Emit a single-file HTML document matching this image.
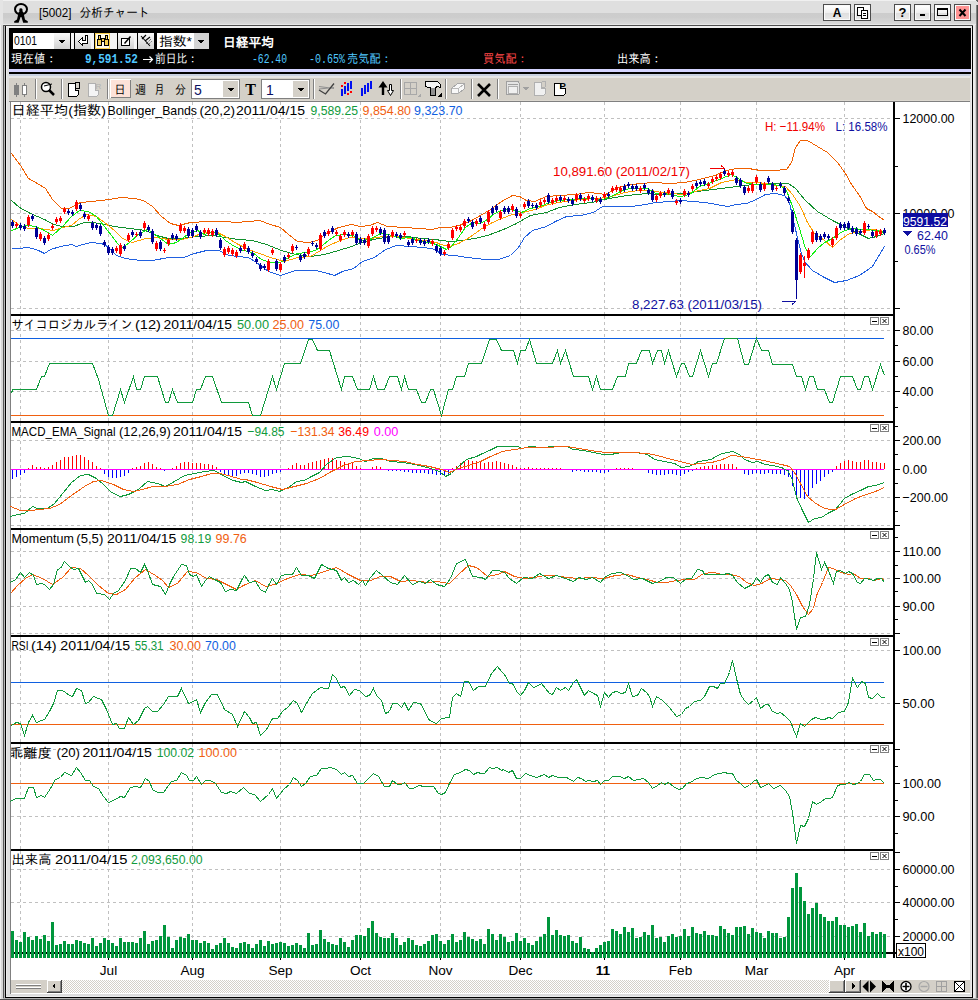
<!DOCTYPE html><html><head><meta charset="utf-8"><title>分析チャート</title>
<style>html,body{margin:0;padding:0;background:#e8e8e8;}body{width:978px;height:1000px;overflow:hidden;position:relative;}svg{position:absolute;left:0;top:0;display:block;}text{white-space:pre;}</style></head><body>
<svg width="978" height="1000" viewBox="0 0 978 1000" shape-rendering="crispEdges">
<defs>
<linearGradient id="gT" x1="0" y1="0" x2="0" y2="1"><stop offset="0" stop-color="#cccccc"/><stop offset="0.4" stop-color="#cdcdcd"/><stop offset="1" stop-color="#dadada"/></linearGradient>
<linearGradient id="gB" x1="0" y1="0" x2="0" y2="1"><stop offset="0" stop-color="#ffffff"/><stop offset="0.5" stop-color="#f0f0f0"/><stop offset="0.55" stop-color="#dedede"/><stop offset="1" stop-color="#e8e8e8"/></linearGradient>
<linearGradient id="gD" x1="0" y1="0" x2="0" y2="1"><stop offset="0" stop-color="#fafafa"/><stop offset="1" stop-color="#d0d0d0"/></linearGradient>
<pattern id="chk" width="2" height="2" patternUnits="userSpaceOnUse"><rect width="2" height="2" fill="#ffffff"/><rect width="1" height="1" fill="#d4d0c8"/><rect x="1" y="1" width="1" height="1" fill="#d4d0c8"/></pattern>
</defs>
<rect x="0" y="0" width="978" height="1000" fill="#e4e4e4" />
<rect x="0" y="0" width="978" height="1" fill="#f0f0f0" />
<rect x="0" y="1" width="978" height="12" fill="#dfdfdf" />
<rect x="0" y="13" width="978" height="11" fill="url(#gT)" />
<rect x="0" y="24" width="978" height="1" fill="#e8e8e8" />
<rect x="3" y="25" width="971" height="1" fill="#505050" />
<rect x="3" y="26" width="970" height="2" fill="#f0f0f0" />
<path d="M0,0 L3,0 L0,3 Z" fill="#000"/>
<path d="M975,0 L978,0 L978,3 Z" fill="#606060"/>
<rect x="0" y="0" width="1" height="1000" fill="#f0f0f0" />
<rect x="1" y="0" width="2" height="1000" fill="#d8d8d8" />
<rect x="0" y="0" width="3" height="25" fill="#e4e4e4" />
<rect x="3" y="25" width="1" height="975" fill="#585858" />
<rect x="4" y="26" width="1" height="972" fill="#b8b8b8" />
<rect x="5" y="26" width="1" height="972" fill="#000000" />
<rect x="6" y="26" width="1" height="971" fill="#ececec" />
<rect x="7" y="28" width="3" height="969" fill="#e0e0e0" />
<rect x="6" y="26" width="4" height="2" fill="#f0f0f0" />
<rect x="970" y="26" width="1" height="971" fill="#e0e0e0" />
<rect x="971" y="26" width="1" height="971" fill="#ececec" />
<rect x="972" y="26" width="1" height="972" fill="#000000" />
<rect x="973" y="25" width="2" height="975" fill="#ececec" />
<rect x="975" y="25" width="1" height="975" fill="#d4d4d4" />
<rect x="976" y="5" width="1" height="995" fill="#808080" />
<rect x="977" y="5" width="1" height="995" fill="#484848" />
<rect x="11" y="993" width="959" height="1" fill="#ffffff" />
<rect x="6" y="994" width="966" height="2" fill="#dcdcdc" />
<rect x="6" y="996" width="966" height="1" fill="#ececec" />
<rect x="5" y="997" width="968" height="1" fill="#000000" />
<rect x="3" y="998" width="975" height="1" fill="#b0b0b0" />
<rect x="0" y="999" width="978" height="1" fill="#505050" />
<ellipse cx="21" cy="9.3" rx="6" ry="5.3" fill="none" stroke="#000" stroke-width="2" shape-rendering="auto"/>
<path d="M19.6,8.6 L21.2,8.2 L22.4,9 L22.6,11.5 L23.6,12.5 L24.2,16 L25,19.5 L27.8,21.3 L27.8,22.7 L23.2,22.7 L21.4,17 L20.6,17 L18.6,22.7 L14.2,22.7 L14.2,21.3 L17,19.5 L17.8,16 L18.4,12.5 L19.6,11.5 L19.2,11 Z" fill="#000" shape-rendering="auto"/>
<text x="39" y="16.8" font-size="13.5" fill="#000" text-anchor="start" font-weight="normal" font-family='"Liberation Sans", sans-serif' textLength="32.5" lengthAdjust="spacingAndGlyphs" >[5002]</text>
<text x="79.5" y="17" font-size="12.5" fill="#000" text-anchor="start" font-weight="normal" font-family='"Liberation Sans", "IPAGothic", "Noto Sans CJK JP", sans-serif' textLength="70" lengthAdjust="spacingAndGlyphs" >分析チャート</text>
<rect x="823" y="4" width="28" height="17" fill="#4c4c4c" />
<rect x="824" y="5" width="26" height="15" fill="#fafafa" />
<rect x="825" y="6" width="24" height="13" fill="url(#gB)" />
<text x="837" y="17" font-size="12" fill="#000" text-anchor="middle" font-weight="bold" font-family='"Liberation Sans", sans-serif' >A</text>
<rect x="854" y="4" width="17" height="17" fill="#4c4c4c" />
<rect x="855" y="5" width="15" height="15" fill="#fafafa" />
<rect x="856" y="6" width="13" height="13" fill="url(#gB)" />
<g stroke="#000" stroke-width="1" fill="#fff"><rect x="857.5" y="7.5" width="6" height="8"/><rect x="861.5" y="10.5" width="6" height="8"/></g>
<g stroke="#000" stroke-width="1"><line x1="863" y1="13.5" x2="866" y2="13.5"/><line x1="863" y1="15.5" x2="866" y2="15.5"/></g>
<rect x="894" y="4" width="17" height="17" fill="#4c4c4c" />
<rect x="895" y="5" width="15" height="15" fill="#fafafa" />
<rect x="896" y="6" width="13" height="13" fill="url(#gB)" />
<text x="902.5" y="17" font-size="13" fill="#000" text-anchor="middle" font-weight="bold" font-family='"Liberation Sans", sans-serif' >?</text>
<rect x="914" y="4" width="17" height="17" fill="#4c4c4c" />
<rect x="915" y="5" width="15" height="15" fill="#fafafa" />
<rect x="916" y="6" width="13" height="13" fill="url(#gB)" />
<rect x="920" y="14" width="5" height="2" fill="#000" />
<rect x="934" y="4" width="17" height="17" fill="#4c4c4c" />
<rect x="935" y="5" width="15" height="15" fill="#fafafa" />
<rect x="936" y="6" width="13" height="13" fill="url(#gB)" />
<rect x="937.5" y="8.5" width="10" height="7" fill="none" stroke="#000"/>
<rect x="938" y="9" width="9" height="1" fill="#000" />
<rect x="954" y="4" width="17" height="17" fill="#4c4c4c" />
<rect x="955" y="5" width="15" height="15" fill="#fafafa" />
<rect x="956" y="6" width="13" height="13" fill="#ff9494" />
<path d="M959.5,9.5 L965.5,16 M965.5,9.5 L959.5,16" stroke="#000" stroke-width="2" shape-rendering="auto"/>
<rect x="9" y="28" width="962" height="41" fill="#000" />
<rect x="9" y="69" width="962" height="3" fill="#d4d4ff" />
<rect x="9" y="72" width="962" height="2" fill="#000" />
<rect x="9" y="74" width="961" height="2" fill="#c8d0e0" />
<rect x="9" y="76" width="961" height="2" fill="#e6e6e6" />
<rect x="13" y="33" width="41" height="16" fill="#ffffff" />
<text x="14" y="44.5" font-size="12" fill="#000" text-anchor="start" font-weight="normal" font-family='"Liberation Sans", sans-serif' textLength="23" lengthAdjust="spacingAndGlyphs" >0101</text>
<rect x="54" y="33" width="16" height="16" fill="url(#gD)" />
<path d="M58.5,39.5 L65.5,39.5 L62,43.5 Z" fill="#000"/>
<rect x="71" y="33" width="3" height="16" fill="#f4f4f4" />
<rect x="75" y="33" width="16" height="16" fill="url(#gD)" />
<path d="M85.5,35.5 H87.5 V43.5 H82.5 V45.5 L78.5,41.5 L82.5,37.5 V40.5 H85.5 Z" fill="#fff" stroke="#000"/>
<rect x="91" y="33" width="3" height="16" fill="#f4f4f4" />
<rect x="95" y="33" width="15" height="16" fill="#f8d050" />
<rect x="96" y="34" width="13" height="14" fill="#fffbe8" />
<g fill="#f8d050" stroke="#000"><rect x="97.5" y="39.5" width="4" height="6"/><rect x="104.5" y="39.5" width="4" height="6"/><rect x="98.5" y="35.5" width="2" height="4"/><rect x="105.5" y="35.5" width="2" height="4"/><rect x="101.5" y="38.5" width="3" height="3"/></g>
<rect x="110" y="33" width="7" height="16" fill="#f4f4f4" />
<rect x="118" y="33" width="16" height="16" fill="url(#gD)" />
<path d="M121.5,38.5 L121.5,45.5 L129.5,45.5 L129.5,38.5 Z" fill="#fff" stroke="#000"/><path d="M124.5,43.5 L130.5,36.5" stroke="#000" stroke-width="1.5" shape-rendering="auto"/>
<rect x="134" y="33" width="3" height="16" fill="#f4f4f4" />
<rect x="138" y="33" width="16" height="16" fill="url(#gD)" />
<path d="M141,36 L150,46 M142,39 L146,35 M145,41 L150,37" stroke="#000" stroke-width="1.1" shape-rendering="auto"/><path d="M146,44 L151,39 M148,45 L152,41" stroke="#000" stroke-width="0.8" stroke-dasharray="1,1" shape-rendering="auto"/>
<rect x="157" y="33" width="37" height="16" fill="#ffffff" />
<text x="159" y="46" font-size="13" fill="#000" text-anchor="start" font-weight="normal" font-family='"Liberation Sans", "IPAGothic", "Noto Sans CJK JP", sans-serif' textLength="33" lengthAdjust="spacingAndGlyphs" >指数*</text>
<rect x="194" y="33" width="15" height="16" fill="#d4d4d4" />
<path d="M197.5,39.5 L204.5,39.5 L201,43.5 Z" fill="#000"/>
<text x="223" y="46.5" font-size="13" fill="#ffffff" text-anchor="start" font-weight="bold" font-family='"Liberation Sans", "IPAGothic", "Noto Sans CJK JP", sans-serif' textLength="51" lengthAdjust="spacingAndGlyphs" >日経平均</text>
<text x="11" y="63" font-size="12.5" fill="#ffffff" text-anchor="start" font-weight="normal" font-family='"Liberation Sans", "IPAGothic", "Noto Sans CJK JP", sans-serif' textLength="46" lengthAdjust="spacingAndGlyphs" >現在値：</text>
<text x="85" y="63" font-size="13" fill="#50c8ff" text-anchor="start" font-weight="bold" font-family='"Liberation Mono", monospace' textLength="53" lengthAdjust="spacingAndGlyphs" >9,591.52</text>
<path d="M143,59.5 H152 M149.5,56.5 L152.5,59.5 L149.5,62.5" stroke="#fff" fill="none" stroke-width="1.2" shape-rendering="auto"/>
<text x="155" y="63" font-size="12.5" fill="#ffffff" text-anchor="start" font-weight="normal" font-family='"Liberation Sans", "IPAGothic", "Noto Sans CJK JP", sans-serif' textLength="43" lengthAdjust="spacingAndGlyphs" >前日比：</text>
<text x="252" y="63" font-size="12.5" fill="#50c8ff" text-anchor="start" font-weight="normal" font-family='"Liberation Mono", monospace' textLength="35" lengthAdjust="spacingAndGlyphs" >-62.40</text>
<text x="309" y="63" font-size="12.5" fill="#50c8ff" text-anchor="start" font-weight="normal" font-family='"Liberation Mono", monospace' textLength="36" lengthAdjust="spacingAndGlyphs" >-0.65%</text>
<text x="347" y="63" font-size="12.5" fill="#50c8ff" text-anchor="start" font-weight="normal" font-family='"Liberation Sans", "IPAGothic", "Noto Sans CJK JP", sans-serif' textLength="45" lengthAdjust="spacingAndGlyphs" >売気配：</text>
<text x="483" y="63" font-size="12.5" fill="#ff4848" text-anchor="start" font-weight="normal" font-family='"Liberation Sans", "IPAGothic", "Noto Sans CJK JP", sans-serif' textLength="45" lengthAdjust="spacingAndGlyphs" >買気配：</text>
<text x="617" y="63" font-size="12.5" fill="#ffffff" text-anchor="start" font-weight="normal" font-family='"Liberation Sans", "IPAGothic", "Noto Sans CJK JP", sans-serif' textLength="45" lengthAdjust="spacingAndGlyphs" >出来高：</text>
<rect x="9" y="78" width="961" height="23" fill="#d4d0c8" />
<rect x="9" y="100" width="961" height="1" fill="#dcd8d0" />
<rect x="9" y="101" width="961" height="1" fill="#808080" />
<rect x="35" y="79" width="1" height="20" fill="#808080" />
<rect x="36" y="79" width="1" height="20" fill="#ffffff" />
<rect x="61" y="79" width="1" height="20" fill="#808080" />
<rect x="62" y="79" width="1" height="20" fill="#ffffff" />
<rect x="107" y="79" width="1" height="20" fill="#808080" />
<rect x="108" y="79" width="1" height="20" fill="#ffffff" />
<rect x="313" y="79" width="1" height="20" fill="#808080" />
<rect x="314" y="79" width="1" height="20" fill="#ffffff" />
<rect x="400" y="79" width="1" height="20" fill="#808080" />
<rect x="401" y="79" width="1" height="20" fill="#ffffff" />
<rect x="445" y="79" width="1" height="20" fill="#808080" />
<rect x="446" y="79" width="1" height="20" fill="#ffffff" />
<rect x="471" y="79" width="1" height="20" fill="#808080" />
<rect x="472" y="79" width="1" height="20" fill="#ffffff" />
<rect x="497" y="79" width="1" height="20" fill="#808080" />
<rect x="498" y="79" width="1" height="20" fill="#ffffff" />
<g fill="#808080"><rect x="16" y="83" width="1" height="14"/><rect x="14" y="85" width="5" height="10"/><rect x="24" y="83" width="1" height="14"/></g><rect x="22.5" y="85.5" width="4" height="9" fill="#fff" stroke="#808080"/>
<g shape-rendering="auto"><circle cx="46" cy="87" r="4.5" fill="#fff" stroke="#000" stroke-width="1.5"/><path d="M49,90 L54,95" stroke="#000" stroke-width="2.5"/><path d="M44,86 L52,84" stroke="#000" stroke-width="1"/></g>
<path d="M68.5,83.5 L75.5,83.5 L75.5,90.5 L78.5,90.5 L78.5,94.5 L76.5,96.5 L68.5,96.5 Z" fill="#fff" stroke="#000"/><rect x="75.5" y="82.5" width="4" height="6" fill="none" stroke="#000"/>
<path d="M88.5,83.5 L95.5,83.5 L95.5,90.5 L98.5,90.5 L98.5,94.5 L96.5,96.5 L88.5,96.5 Z" fill="#f4f4f4" stroke="#b0b0b0"/><text x="95.5" y="89" font-size="8" fill="#b0b0b0" font-family='"Liberation Sans", sans-serif'>R</text>
<rect x="110" y="79" width="21" height="19" fill="#ffffff" />
<rect x="111" y="80" width="20" height="18" fill="#808080" />
<rect x="111" y="80" width="19" height="17" fill="#fde2d8" />
<text x="114.5" y="94" font-size="12.5" fill="#000" text-anchor="start" font-weight="normal" font-family='"Liberation Sans", "IPAGothic", "Noto Sans CJK JP", sans-serif' textLength="11" lengthAdjust="spacingAndGlyphs" >日</text>
<text x="135" y="94" font-size="12.5" fill="#000" text-anchor="start" font-weight="normal" font-family='"Liberation Sans", "IPAGothic", "Noto Sans CJK JP", sans-serif' textLength="11" lengthAdjust="spacingAndGlyphs" >週</text>
<text x="154.5" y="94" font-size="12.5" fill="#000" text-anchor="start" font-weight="normal" font-family='"Liberation Sans", "IPAGothic", "Noto Sans CJK JP", sans-serif' textLength="10" lengthAdjust="spacingAndGlyphs" >月</text>
<text x="175" y="94" font-size="12.5" fill="#000" text-anchor="start" font-weight="normal" font-family='"Liberation Sans", "IPAGothic", "Noto Sans CJK JP", sans-serif' textLength="11" lengthAdjust="spacingAndGlyphs" >分</text>
<rect x="191" y="79" width="49" height="20" fill="#808080" />
<rect x="192" y="80" width="47" height="18" fill="#ffffff" />
<rect x="223" y="81" width="15" height="16" fill="#d4d0c8" />
<path d="M227.5,87.5 L234.5,87.5 L231,91.5 Z" fill="#000"/>
<text x="194" y="95" font-size="14" fill="#0a1060" text-anchor="start" font-weight="normal" font-family='"Liberation Sans", sans-serif' >5</text>
<text x="250.5" y="95" font-size="16" fill="#000" text-anchor="middle" font-weight="bold" font-family='"Liberation Serif", serif' >T</text>
<rect x="261" y="79" width="49" height="20" fill="#808080" />
<rect x="262" y="80" width="47" height="18" fill="#ffffff" />
<rect x="293" y="81" width="15" height="16" fill="#d4d0c8" />
<path d="M297.5,87.5 L304.5,87.5 L301,91.5 Z" fill="#000"/>
<text x="266" y="95" font-size="14" fill="#0a1060" text-anchor="start" font-weight="normal" font-family='"Liberation Sans", sans-serif' >1</text>
<path d="M319,86.5 L334,88.5 M319,89 L334,87.5" fill="none" stroke="#909090" stroke-width="1.2" shape-rendering="auto"/>
<path d="M319,90 L325.5,94 L334,83.5" fill="none" stroke="#404040" stroke-width="1.3" shape-rendering="auto"/>
<g fill="#0010f0"><rect x="341" y="89" width="2" height="7"/><rect x="344" y="86" width="2" height="8"/><rect x="347" y="83" width="2" height="8"/><rect x="350" y="81" width="2" height="8"/></g><g fill="#ff0000"><rect x="341" y="85" width="2" height="2"/><rect x="344" y="82" width="2" height="2"/><rect x="347" y="93" width="2" height="2"/><rect x="350" y="91" width="2" height="2"/></g>
<g fill="#0010f0"><rect x="361" y="88" width="2" height="8"/><rect x="364" y="85" width="2" height="9"/><rect x="367" y="83" width="2" height="9"/><rect x="370" y="81" width="2" height="8"/></g>
<path d="M383,81 L387.5,87.5 L384.2,87.5 L384.2,95 L381.8,95 L381.8,87.5 L378.5,87.5 Z" fill="#000" shape-rendering="auto"/><path d="M389.5,84.5 L391.5,84.5 L391.5,90.5 L393.5,90.5 L390.5,95.5 L387.5,90.5 L389.5,90.5 Z" fill="#fff" stroke="#000" shape-rendering="auto"/>
<g fill="none" stroke="#a8a8a8"><rect x="404.5" y="82.5" width="12" height="12"/><line x1="410.5" y1="82.5" x2="410.5" y2="94.5"/><line x1="404.5" y1="88.5" x2="416.5" y2="88.5"/></g><path d="M417,97 L421,93 L421,97 Z" fill="#a8a8a8"/>
<path d="M425.5,81.5 L437.5,81.5 L440.5,84.5 L440.5,87.5 L437.5,86.5 L435.5,87.5 L435.5,95.5 L430.5,95.5 L430.5,87.5 L428.5,87.5 L425.5,86.5 Z" fill="#f4f4f4" stroke="#000"/><rect x="431" y="88" width="4" height="7" fill="#909090"/><path d="M437,97 L441.5,92.5 L441.5,97 Z" fill="#000"/>
<path d="M451.5,88.5 L457.5,83.5 L464.5,83.5 L464.5,88.5 L458.5,93.5 L451.5,93.5 Z" fill="#f8f8f8" stroke="#a8a8a8"/><path d="M451.5,88.5 L458.5,88.5 L464.5,83.5 M458.5,88.5 L458.5,93.5" fill="none" stroke="#b8b8b8"/>
<path d="M478,84 L490,96 M490,84 L478,96" stroke="#000" stroke-width="2.6" shape-rendering="auto"/>
<rect x="506.5" y="81.5" width="12.5" height="13" rx="1" fill="#e4e4e4" stroke="#a0a0a0"/><line x1="508" y1="84.5" x2="518" y2="84.5" stroke="#a0a0a0"/><rect x="508.5" y="86.5" width="9" height="7" fill="#f0f0f0" stroke="#b0b0b0"/><path d="M522,87 L529,87 L525.5,90.5 Z" fill="#a0a0a0"/>
<path d="M534.5,82.5 L541.5,82.5 L541.5,88.5 L545.5,88.5 L545.5,93.5 L543.5,95.5 L534.5,95.5 Z" fill="#f0f0f0" stroke="#b0b0b0"/><rect x="541.5" y="81.5" width="4" height="6" rx="1.5" fill="none" stroke="#b0b0b0"/>
<path d="M554.5,83.5 L560.5,83.5 L560.5,88.5 L565.5,88.5 L565.5,93.5 L563.5,95.5 L554.5,95.5 Z" fill="#fff" stroke="#000"/>
<text x="559.6" y="88.6" font-size="9.5" fill="#000" text-anchor="start" font-weight="bold" font-family='"Liberation Sans", sans-serif' >P</text>
<rect x="11" y="102" width="959" height="878" fill="#ffffff" />
<rect x="10" y="101" width="1" height="893" fill="#808080" />
<line x1="11" y1="118.5" x2="893" y2="118.5" stroke="#c0c0c0" stroke-width="1" stroke-dasharray="3,3"/>
<line x1="11" y1="213.5" x2="893" y2="213.5" stroke="#c0c0c0" stroke-width="1" stroke-dasharray="3,3"/>
<line x1="11" y1="308.5" x2="893" y2="308.5" stroke="#c0c0c0" stroke-width="1" stroke-dasharray="3,3"/>
<line x1="11" y1="330.5" x2="893" y2="330.5" stroke="#c0c0c0" stroke-width="1" stroke-dasharray="3,3"/>
<line x1="11" y1="361.5" x2="893" y2="361.5" stroke="#c0c0c0" stroke-width="1" stroke-dasharray="3,3"/>
<line x1="11" y1="391.5" x2="893" y2="391.5" stroke="#c0c0c0" stroke-width="1" stroke-dasharray="3,3"/>
<line x1="11" y1="440.5" x2="893" y2="440.5" stroke="#c0c0c0" stroke-width="1" stroke-dasharray="3,3"/>
<line x1="11" y1="497.5" x2="893" y2="497.5" stroke="#c0c0c0" stroke-width="1" stroke-dasharray="3,3"/>
<line x1="11" y1="525.5" x2="893" y2="525.5" stroke="#c0c0c0" stroke-width="1" stroke-dasharray="3,3"/>
<line x1="11" y1="551.5" x2="893" y2="551.5" stroke="#c0c0c0" stroke-width="1" stroke-dasharray="3,3"/>
<line x1="11" y1="578.5" x2="893" y2="578.5" stroke="#c0c0c0" stroke-width="1" stroke-dasharray="3,3"/>
<line x1="11" y1="606.5" x2="893" y2="606.5" stroke="#c0c0c0" stroke-width="1" stroke-dasharray="3,3"/>
<line x1="11" y1="633.5" x2="893" y2="633.5" stroke="#c0c0c0" stroke-width="1" stroke-dasharray="3,3"/>
<line x1="11" y1="650.5" x2="893" y2="650.5" stroke="#c0c0c0" stroke-width="1" stroke-dasharray="3,3"/>
<line x1="11" y1="703.5" x2="893" y2="703.5" stroke="#c0c0c0" stroke-width="1" stroke-dasharray="3,3"/>
<line x1="11" y1="749.5" x2="893" y2="749.5" stroke="#c0c0c0" stroke-width="1" stroke-dasharray="3,3"/>
<line x1="11" y1="816.5" x2="893" y2="816.5" stroke="#c0c0c0" stroke-width="1" stroke-dasharray="3,3"/>
<line x1="11" y1="869.5" x2="893" y2="869.5" stroke="#c0c0c0" stroke-width="1" stroke-dasharray="3,3"/>
<line x1="11" y1="902.5" x2="893" y2="902.5" stroke="#c0c0c0" stroke-width="1" stroke-dasharray="3,3"/>
<line x1="11" y1="936.5" x2="893" y2="936.5" stroke="#c0c0c0" stroke-width="1" stroke-dasharray="3,3"/>
<line x1="20.5" y1="102" x2="20.5" y2="314" stroke="#c0c0c0" stroke-width="1" stroke-dasharray="3,3"/>
<line x1="108.5" y1="102" x2="108.5" y2="314" stroke="#c0c0c0" stroke-width="1" stroke-dasharray="3,3"/>
<line x1="192.5" y1="102" x2="192.5" y2="314" stroke="#c0c0c0" stroke-width="1" stroke-dasharray="3,3"/>
<line x1="280.5" y1="102" x2="280.5" y2="314" stroke="#c0c0c0" stroke-width="1" stroke-dasharray="3,3"/>
<line x1="360.5" y1="102" x2="360.5" y2="314" stroke="#c0c0c0" stroke-width="1" stroke-dasharray="3,3"/>
<line x1="440.5" y1="102" x2="440.5" y2="314" stroke="#c0c0c0" stroke-width="1" stroke-dasharray="3,3"/>
<line x1="520.5" y1="102" x2="520.5" y2="314" stroke="#c0c0c0" stroke-width="1" stroke-dasharray="3,3"/>
<line x1="604.5" y1="102" x2="604.5" y2="314" stroke="#c0c0c0" stroke-width="1" stroke-dasharray="3,3"/>
<line x1="680.5" y1="102" x2="680.5" y2="314" stroke="#c0c0c0" stroke-width="1" stroke-dasharray="3,3"/>
<line x1="756.5" y1="102" x2="756.5" y2="314" stroke="#c0c0c0" stroke-width="1" stroke-dasharray="3,3"/>
<line x1="844.5" y1="102" x2="844.5" y2="314" stroke="#c0c0c0" stroke-width="1" stroke-dasharray="3,3"/>
<line x1="20.5" y1="316" x2="20.5" y2="421" stroke="#c0c0c0" stroke-width="1" stroke-dasharray="3,3"/>
<line x1="108.5" y1="316" x2="108.5" y2="421" stroke="#c0c0c0" stroke-width="1" stroke-dasharray="3,3"/>
<line x1="192.5" y1="316" x2="192.5" y2="421" stroke="#c0c0c0" stroke-width="1" stroke-dasharray="3,3"/>
<line x1="280.5" y1="316" x2="280.5" y2="421" stroke="#c0c0c0" stroke-width="1" stroke-dasharray="3,3"/>
<line x1="360.5" y1="316" x2="360.5" y2="421" stroke="#c0c0c0" stroke-width="1" stroke-dasharray="3,3"/>
<line x1="440.5" y1="316" x2="440.5" y2="421" stroke="#c0c0c0" stroke-width="1" stroke-dasharray="3,3"/>
<line x1="520.5" y1="316" x2="520.5" y2="421" stroke="#c0c0c0" stroke-width="1" stroke-dasharray="3,3"/>
<line x1="604.5" y1="316" x2="604.5" y2="421" stroke="#c0c0c0" stroke-width="1" stroke-dasharray="3,3"/>
<line x1="680.5" y1="316" x2="680.5" y2="421" stroke="#c0c0c0" stroke-width="1" stroke-dasharray="3,3"/>
<line x1="756.5" y1="316" x2="756.5" y2="421" stroke="#c0c0c0" stroke-width="1" stroke-dasharray="3,3"/>
<line x1="844.5" y1="316" x2="844.5" y2="421" stroke="#c0c0c0" stroke-width="1" stroke-dasharray="3,3"/>
<line x1="20.5" y1="423" x2="20.5" y2="528" stroke="#c0c0c0" stroke-width="1" stroke-dasharray="3,3"/>
<line x1="108.5" y1="423" x2="108.5" y2="528" stroke="#c0c0c0" stroke-width="1" stroke-dasharray="3,3"/>
<line x1="192.5" y1="423" x2="192.5" y2="528" stroke="#c0c0c0" stroke-width="1" stroke-dasharray="3,3"/>
<line x1="280.5" y1="423" x2="280.5" y2="528" stroke="#c0c0c0" stroke-width="1" stroke-dasharray="3,3"/>
<line x1="360.5" y1="423" x2="360.5" y2="528" stroke="#c0c0c0" stroke-width="1" stroke-dasharray="3,3"/>
<line x1="440.5" y1="423" x2="440.5" y2="528" stroke="#c0c0c0" stroke-width="1" stroke-dasharray="3,3"/>
<line x1="520.5" y1="423" x2="520.5" y2="528" stroke="#c0c0c0" stroke-width="1" stroke-dasharray="3,3"/>
<line x1="604.5" y1="423" x2="604.5" y2="528" stroke="#c0c0c0" stroke-width="1" stroke-dasharray="3,3"/>
<line x1="680.5" y1="423" x2="680.5" y2="528" stroke="#c0c0c0" stroke-width="1" stroke-dasharray="3,3"/>
<line x1="756.5" y1="423" x2="756.5" y2="528" stroke="#c0c0c0" stroke-width="1" stroke-dasharray="3,3"/>
<line x1="844.5" y1="423" x2="844.5" y2="528" stroke="#c0c0c0" stroke-width="1" stroke-dasharray="3,3"/>
<line x1="20.5" y1="530" x2="20.5" y2="635" stroke="#c0c0c0" stroke-width="1" stroke-dasharray="3,3"/>
<line x1="108.5" y1="530" x2="108.5" y2="635" stroke="#c0c0c0" stroke-width="1" stroke-dasharray="3,3"/>
<line x1="192.5" y1="530" x2="192.5" y2="635" stroke="#c0c0c0" stroke-width="1" stroke-dasharray="3,3"/>
<line x1="280.5" y1="530" x2="280.5" y2="635" stroke="#c0c0c0" stroke-width="1" stroke-dasharray="3,3"/>
<line x1="360.5" y1="530" x2="360.5" y2="635" stroke="#c0c0c0" stroke-width="1" stroke-dasharray="3,3"/>
<line x1="440.5" y1="530" x2="440.5" y2="635" stroke="#c0c0c0" stroke-width="1" stroke-dasharray="3,3"/>
<line x1="520.5" y1="530" x2="520.5" y2="635" stroke="#c0c0c0" stroke-width="1" stroke-dasharray="3,3"/>
<line x1="604.5" y1="530" x2="604.5" y2="635" stroke="#c0c0c0" stroke-width="1" stroke-dasharray="3,3"/>
<line x1="680.5" y1="530" x2="680.5" y2="635" stroke="#c0c0c0" stroke-width="1" stroke-dasharray="3,3"/>
<line x1="756.5" y1="530" x2="756.5" y2="635" stroke="#c0c0c0" stroke-width="1" stroke-dasharray="3,3"/>
<line x1="844.5" y1="530" x2="844.5" y2="635" stroke="#c0c0c0" stroke-width="1" stroke-dasharray="3,3"/>
<line x1="20.5" y1="637" x2="20.5" y2="742" stroke="#c0c0c0" stroke-width="1" stroke-dasharray="3,3"/>
<line x1="108.5" y1="637" x2="108.5" y2="742" stroke="#c0c0c0" stroke-width="1" stroke-dasharray="3,3"/>
<line x1="192.5" y1="637" x2="192.5" y2="742" stroke="#c0c0c0" stroke-width="1" stroke-dasharray="3,3"/>
<line x1="280.5" y1="637" x2="280.5" y2="742" stroke="#c0c0c0" stroke-width="1" stroke-dasharray="3,3"/>
<line x1="360.5" y1="637" x2="360.5" y2="742" stroke="#c0c0c0" stroke-width="1" stroke-dasharray="3,3"/>
<line x1="440.5" y1="637" x2="440.5" y2="742" stroke="#c0c0c0" stroke-width="1" stroke-dasharray="3,3"/>
<line x1="520.5" y1="637" x2="520.5" y2="742" stroke="#c0c0c0" stroke-width="1" stroke-dasharray="3,3"/>
<line x1="604.5" y1="637" x2="604.5" y2="742" stroke="#c0c0c0" stroke-width="1" stroke-dasharray="3,3"/>
<line x1="680.5" y1="637" x2="680.5" y2="742" stroke="#c0c0c0" stroke-width="1" stroke-dasharray="3,3"/>
<line x1="756.5" y1="637" x2="756.5" y2="742" stroke="#c0c0c0" stroke-width="1" stroke-dasharray="3,3"/>
<line x1="844.5" y1="637" x2="844.5" y2="742" stroke="#c0c0c0" stroke-width="1" stroke-dasharray="3,3"/>
<line x1="20.5" y1="744" x2="20.5" y2="849" stroke="#c0c0c0" stroke-width="1" stroke-dasharray="3,3"/>
<line x1="108.5" y1="744" x2="108.5" y2="849" stroke="#c0c0c0" stroke-width="1" stroke-dasharray="3,3"/>
<line x1="192.5" y1="744" x2="192.5" y2="849" stroke="#c0c0c0" stroke-width="1" stroke-dasharray="3,3"/>
<line x1="280.5" y1="744" x2="280.5" y2="849" stroke="#c0c0c0" stroke-width="1" stroke-dasharray="3,3"/>
<line x1="360.5" y1="744" x2="360.5" y2="849" stroke="#c0c0c0" stroke-width="1" stroke-dasharray="3,3"/>
<line x1="440.5" y1="744" x2="440.5" y2="849" stroke="#c0c0c0" stroke-width="1" stroke-dasharray="3,3"/>
<line x1="520.5" y1="744" x2="520.5" y2="849" stroke="#c0c0c0" stroke-width="1" stroke-dasharray="3,3"/>
<line x1="604.5" y1="744" x2="604.5" y2="849" stroke="#c0c0c0" stroke-width="1" stroke-dasharray="3,3"/>
<line x1="680.5" y1="744" x2="680.5" y2="849" stroke="#c0c0c0" stroke-width="1" stroke-dasharray="3,3"/>
<line x1="756.5" y1="744" x2="756.5" y2="849" stroke="#c0c0c0" stroke-width="1" stroke-dasharray="3,3"/>
<line x1="844.5" y1="744" x2="844.5" y2="849" stroke="#c0c0c0" stroke-width="1" stroke-dasharray="3,3"/>
<line x1="20.5" y1="851" x2="20.5" y2="958" stroke="#c0c0c0" stroke-width="1" stroke-dasharray="3,3"/>
<line x1="108.5" y1="851" x2="108.5" y2="958" stroke="#c0c0c0" stroke-width="1" stroke-dasharray="3,3"/>
<line x1="192.5" y1="851" x2="192.5" y2="958" stroke="#c0c0c0" stroke-width="1" stroke-dasharray="3,3"/>
<line x1="280.5" y1="851" x2="280.5" y2="958" stroke="#c0c0c0" stroke-width="1" stroke-dasharray="3,3"/>
<line x1="360.5" y1="851" x2="360.5" y2="958" stroke="#c0c0c0" stroke-width="1" stroke-dasharray="3,3"/>
<line x1="440.5" y1="851" x2="440.5" y2="958" stroke="#c0c0c0" stroke-width="1" stroke-dasharray="3,3"/>
<line x1="520.5" y1="851" x2="520.5" y2="958" stroke="#c0c0c0" stroke-width="1" stroke-dasharray="3,3"/>
<line x1="604.5" y1="851" x2="604.5" y2="958" stroke="#c0c0c0" stroke-width="1" stroke-dasharray="3,3"/>
<line x1="680.5" y1="851" x2="680.5" y2="958" stroke="#c0c0c0" stroke-width="1" stroke-dasharray="3,3"/>
<line x1="756.5" y1="851" x2="756.5" y2="958" stroke="#c0c0c0" stroke-width="1" stroke-dasharray="3,3"/>
<line x1="844.5" y1="851" x2="844.5" y2="958" stroke="#c0c0c0" stroke-width="1" stroke-dasharray="3,3"/>
<polyline points="11.5,153.5 20.5,165.5 28.5,178.5 37.5,183.5 45.5,188.5 52.5,199.5 61.5,208.5 68.5,208.5 75.5,205.5 80.5,202.5 91.5,201.5 109.5,199.5 120.5,197.5 134.5,198.5 143.5,200.5 152.5,206.5 161.5,216.5 170.5,223.5 178.5,225.5 190.5,222.5 208.5,221.5 224.5,221.5 236.5,222.5 248.5,221.5 259.5,220.5 270.5,224.5 280.5,227.5 288.5,234.5 297.5,241.5 308.5,242.5 317.5,240.5 326.5,233.5 338.5,227.5 351.5,224.5 360.5,226.5 369.5,225.5 377.5,222.5 387.5,226.5 405.5,227.5 418.5,228.5 432.5,229.5 439.5,227.5 449.5,227.5 458.5,225.5 469.5,221.5 480.5,215.5 490.5,209.5 501.5,201.5 512.5,195.5 519.5,196.5 526.5,200.5 534.5,201.5 546.5,196.5 559.5,195.5 575.5,194.5 588.5,192.5 598.5,193.5 605.5,194.5 616.5,188.5 629.5,184.5 642.5,183.5 652.5,182.5 670.5,183.5 684.5,182.5 699.5,179.5 714.5,175.5 726.5,170.5 736.5,168.5 748.5,168.5 760.5,170.5 773.5,170.5 786.5,169.5 791.5,162.5 795.5,147.5 800.5,140.5 807.5,140.5 817.5,146.5 827.5,152.5 837.5,162.5 845.5,173.5 851.5,184.5 859.5,195.5 866.5,208.5 872.5,211.5 877.5,215.5 884.5,220.5" fill="none" stroke="#f06000" stroke-width="1" shape-rendering="crispEdges"/>
<polyline points="11.5,248.5 19.5,248.5 26.5,247.5 32.5,248.5 38.5,250.5 44.5,253.5 50.5,249.5 60.5,246.5 71.5,244.5 76.5,246.5 82.5,244.5 91.5,242.5 100.5,243.5 104.5,244.5 109.5,248.5 116.5,255.5 125.5,258.5 140.5,260.5 152.5,260.5 168.5,257.5 183.5,257.5 194.5,253.5 206.5,250.5 219.5,250.5 225.5,254.5 236.5,256.5 248.5,257.5 256.5,262.5 268.5,271.5 280.5,275.5 295.5,270.5 315.5,270.5 324.5,272.5 334.5,275.5 342.5,271.5 353.5,268.5 362.5,261.5 374.5,257.5 385.5,249.5 396.5,245.5 410.5,246.5 423.5,247.5 436.5,249.5 440.5,254.5 454.5,255.5 467.5,257.5 485.5,259.5 498.5,259.5 510.5,255.5 518.5,247.5 524.5,237.5 532.5,230.5 546.5,226.5 555.5,221.5 566.5,216.5 580.5,215.5 593.5,212.5 602.5,206.5 616.5,206.5 631.5,206.5 645.5,204.5 655.5,202.5 670.5,201.5 680.5,200.5 692.5,201.5 704.5,202.5 716.5,204.5 727.5,206.5 736.5,204.5 746.5,203.5 756.5,199.5 765.5,194.5 775.5,193.5 784.5,195.5 789.5,202.5 792.5,216.5 796.5,233.5 800.5,250.5 804.5,261.5 812.5,270.5 824.5,277.5 834.5,282.5 846.5,280.5 859.5,275.5 872.5,266.5 878.5,256.5 884.5,246.5" fill="none" stroke="#2060e0" stroke-width="1" shape-rendering="crispEdges"/>
<polyline points="11.5,200.5 19.5,207.5 30.5,213.5 44.5,219.5 53.5,224.5 62.5,226.5 73.5,226.5 84.5,222.5 93.5,222.5 104.5,224.5 114.5,226.5 129.5,228.5 145.5,230.5 156.5,235.5 168.5,238.5 181.5,238.5 197.5,236.5 212.5,235.5 225.5,237.5 238.5,239.5 252.5,240.5 266.5,244.5 281.5,250.5 295.5,254.5 310.5,256.5 324.5,254.5 338.5,250.5 351.5,246.5 364.5,241.5 378.5,238.5 392.5,236.5 407.5,236.5 421.5,238.5 436.5,239.5 440.5,240.5 451.5,241.5 462.5,240.5 474.5,238.5 487.5,235.5 503.5,229.5 516.5,223.5 530.5,215.5 546.5,212.5 559.5,207.5 575.5,204.5 591.5,202.5 604.5,199.5 620.5,196.5 636.5,194.5 647.5,193.5 655.5,194.5 670.5,193.5 684.5,193.5 704.5,190.5 721.5,188.5 736.5,186.5 753.5,184.5 770.5,183.5 788.5,183.5 795.5,188.5 805.5,200.5 817.5,211.5 832.5,220.5 844.5,226.5 856.5,232.5 868.5,238.5 876.5,236.5 884.5,233.5" fill="none" stroke="#10902c" stroke-width="1" shape-rendering="crispEdges"/>
<polyline points="11.5,219.5 19.5,225.5 28.5,228.5 39.5,228.5 53.5,230.5 62.5,227.5 71.5,225.5 78.5,219.5 86.5,214.5 96.5,216.5 104.5,222.5 114.5,230.5 122.5,238.5 132.5,242.5 145.5,238.5 156.5,237.5 168.5,239.5 181.5,239.5 190.5,237.5 204.5,232.5 217.5,232.5 225.5,236.5 236.5,243.5 248.5,249.5 259.5,253.5 270.5,257.5 284.5,261.5 297.5,257.5 310.5,256.5 320.5,250.5 328.5,245.5 340.5,240.5 349.5,237.5 360.5,238.5 371.5,238.5 382.5,236.5 396.5,236.5 410.5,238.5 423.5,240.5 436.5,242.5 440.5,244.5 449.5,246.5 458.5,243.5 469.5,237.5 480.5,229.5 490.5,223.5 501.5,218.5 512.5,214.5 523.5,212.5 534.5,209.5 548.5,204.5 564.5,201.5 580.5,199.5 598.5,198.5 611.5,196.5 624.5,192.5 638.5,190.5 652.5,190.5 655.5,191.5 670.5,193.5 682.5,194.5 694.5,191.5 709.5,188.5 721.5,182.5 736.5,179.5 746.5,182.5 758.5,182.5 770.5,184.5 785.5,186.5 792.5,194.5 800.5,206.5 807.5,222.5 814.5,233.5 824.5,240.5 832.5,247.5 839.5,240.5 849.5,233.5 861.5,231.5 873.5,229.5 884.5,231.5" fill="none" stroke="#ffa000" stroke-width="1" shape-rendering="crispEdges"/>
<polyline points="11.5,230.5 19.5,227.5 27.5,225.5 35.5,226.5 44.5,230.5 52.5,235.5 62.5,226.5 71.5,216.5 79.5,210.5 88.5,211.5 96.5,216.5 104.5,226.5 114.5,239.5 121.5,248.5 129.5,242.5 138.5,234.5 147.5,229.5 156.5,235.5 168.5,244.5 176.5,242.5 183.5,237.5 190.5,232.5 197.5,230.5 204.5,234.5 212.5,231.5 220.5,235.5 225.5,240.5 234.5,246.5 243.5,250.5 252.5,252.5 261.5,259.5 270.5,262.5 280.5,262.5 288.5,257.5 297.5,253.5 306.5,252.5 315.5,250.5 322.5,245.5 328.5,240.5 335.5,235.5 344.5,234.5 353.5,235.5 360.5,240.5 369.5,239.5 380.5,233.5 392.5,235.5 400.5,238.5 410.5,237.5 418.5,240.5 428.5,242.5 436.5,244.5 440.5,246.5 446.5,249.5 451.5,246.5 458.5,237.5 465.5,227.5 472.5,222.5 480.5,223.5 487.5,219.5 494.5,213.5 501.5,210.5 508.5,209.5 514.5,210.5 521.5,212.5 530.5,208.5 539.5,206.5 550.5,202.5 559.5,200.5 570.5,199.5 582.5,198.5 593.5,198.5 602.5,199.5 611.5,196.5 620.5,191.5 629.5,188.5 638.5,188.5 647.5,188.5 655.5,193.5 667.5,194.5 680.5,196.5 689.5,194.5 699.5,186.5 711.5,182.5 721.5,178.5 731.5,174.5 738.5,178.5 746.5,183.5 758.5,184.5 770.5,184.5 780.5,185.5 786.5,190.5 792.5,206.5 799.5,228.5 805.5,248.5 810.5,256.5 817.5,248.5 824.5,242.5 832.5,238.5 842.5,231.5 851.5,228.5 864.5,229.5 876.5,230.5 884.5,232.5" fill="none" stroke="#10f010" stroke-width="1" shape-rendering="crispEdges"/>
<rect x="12" y="220" width="1" height="8" fill="#000096" />
<rect x="11" y="222" width="3" height="4" fill="#000096" />
<rect x="16" y="222" width="1" height="6" fill="#ff0000" />
<rect x="15" y="224" width="3" height="2" fill="#ff0000" />
<rect x="20" y="223" width="1" height="7" fill="#000096" />
<rect x="19" y="225" width="3" height="3" fill="#000096" />
<rect x="24" y="224" width="1" height="7" fill="#000096" />
<rect x="23" y="226" width="3" height="3" fill="#000096" />
<rect x="28" y="215" width="1" height="12" fill="#ff0000" />
<rect x="27" y="217" width="3" height="8" fill="#ff0000" />
<rect x="32" y="214" width="1" height="7" fill="#000096" />
<rect x="31" y="216" width="3" height="3" fill="#000096" />
<rect x="36" y="226" width="1" height="13" fill="#000096" />
<rect x="35" y="228" width="3" height="9" fill="#000096" />
<rect x="40" y="232" width="1" height="9" fill="#ff0000" />
<rect x="39" y="234" width="3" height="5" fill="#ff0000" />
<rect x="44" y="236" width="1" height="9" fill="#000096" />
<rect x="43" y="238" width="3" height="5" fill="#000096" />
<rect x="48" y="233" width="1" height="8" fill="#ff0000" />
<rect x="47" y="235" width="3" height="4" fill="#ff0000" />
<rect x="52" y="224" width="1" height="6" fill="#ff0000" />
<rect x="51" y="226" width="3" height="2" fill="#ff0000" />
<rect x="56" y="217" width="1" height="7" fill="#ff0000" />
<rect x="55" y="219" width="3" height="3" fill="#ff0000" />
<rect x="60" y="216" width="1" height="7" fill="#ff0000" />
<rect x="59" y="218" width="3" height="3" fill="#ff0000" />
<rect x="64" y="207" width="1" height="7" fill="#ff0000" />
<rect x="63" y="209" width="3" height="3" fill="#ff0000" />
<rect x="68" y="209" width="1" height="6" fill="#000096" />
<rect x="67" y="211" width="3" height="2" fill="#000096" />
<rect x="72" y="210" width="1" height="6" fill="#000096" />
<rect x="71" y="212" width="3" height="2" fill="#000096" />
<rect x="76" y="200" width="1" height="11" fill="#ff0000" />
<rect x="75" y="202" width="3" height="7" fill="#ff0000" />
<rect x="80" y="203" width="1" height="8" fill="#000096" />
<rect x="79" y="205" width="3" height="4" fill="#000096" />
<rect x="84" y="212" width="1" height="7" fill="#000096" />
<rect x="83" y="214" width="3" height="3" fill="#000096" />
<rect x="88" y="214" width="1" height="7" fill="#ff0000" />
<rect x="87" y="216" width="3" height="3" fill="#ff0000" />
<rect x="92" y="221" width="1" height="9" fill="#000096" />
<rect x="91" y="223" width="3" height="5" fill="#000096" />
<rect x="96" y="223" width="1" height="7" fill="#000096" />
<rect x="95" y="225" width="3" height="3" fill="#000096" />
<rect x="100" y="224" width="1" height="12" fill="#000096" />
<rect x="99" y="226" width="3" height="8" fill="#000096" />
<rect x="104" y="240" width="1" height="7" fill="#000096" />
<rect x="103" y="242" width="3" height="3" fill="#000096" />
<rect x="108" y="245" width="1" height="10" fill="#000096" />
<rect x="107" y="247" width="3" height="6" fill="#000096" />
<rect x="112" y="247" width="1" height="8" fill="#000096" />
<rect x="111" y="249" width="3" height="4" fill="#000096" />
<rect x="116" y="246" width="1" height="7" fill="#ff0000" />
<rect x="115" y="248" width="3" height="3" fill="#ff0000" />
<rect x="120" y="243" width="1" height="13" fill="#ff0000" />
<rect x="119" y="245" width="3" height="9" fill="#ff0000" />
<rect x="124" y="244" width="1" height="7" fill="#000096" />
<rect x="123" y="246" width="3" height="3" fill="#000096" />
<rect x="128" y="233" width="1" height="9" fill="#ff0000" />
<rect x="127" y="235" width="3" height="5" fill="#ff0000" />
<rect x="132" y="230" width="1" height="7" fill="#000096" />
<rect x="131" y="232" width="3" height="3" fill="#000096" />
<rect x="136" y="232" width="1" height="5" fill="#ff0000" />
<rect x="135" y="234" width="3" height="1" fill="#ff0000" />
<rect x="140" y="230" width="1" height="8" fill="#000096" />
<rect x="139" y="232" width="3" height="4" fill="#000096" />
<rect x="144" y="221" width="1" height="9" fill="#ff0000" />
<rect x="143" y="223" width="3" height="5" fill="#ff0000" />
<rect x="148" y="225" width="1" height="7" fill="#000096" />
<rect x="147" y="227" width="3" height="3" fill="#000096" />
<rect x="152" y="229" width="1" height="15" fill="#000096" />
<rect x="151" y="231" width="3" height="11" fill="#000096" />
<rect x="156" y="241" width="1" height="10" fill="#ff0000" />
<rect x="155" y="243" width="3" height="6" fill="#ff0000" />
<rect x="160" y="240" width="1" height="11" fill="#000096" />
<rect x="159" y="242" width="3" height="7" fill="#000096" />
<rect x="164" y="248" width="1" height="5" fill="#ff0000" />
<rect x="163" y="250" width="3" height="1" fill="#ff0000" />
<rect x="168" y="238" width="1" height="8" fill="#ff0000" />
<rect x="167" y="240" width="3" height="4" fill="#ff0000" />
<rect x="172" y="233" width="1" height="7" fill="#000096" />
<rect x="171" y="235" width="3" height="3" fill="#000096" />
<rect x="176" y="234" width="1" height="7" fill="#000096" />
<rect x="175" y="236" width="3" height="3" fill="#000096" />
<rect x="180" y="223" width="1" height="10" fill="#ff0000" />
<rect x="179" y="225" width="3" height="6" fill="#ff0000" />
<rect x="184" y="226" width="1" height="7" fill="#ff0000" />
<rect x="183" y="228" width="3" height="3" fill="#ff0000" />
<rect x="188" y="227" width="1" height="11" fill="#000096" />
<rect x="187" y="229" width="3" height="7" fill="#000096" />
<rect x="192" y="228" width="1" height="10" fill="#000096" />
<rect x="191" y="230" width="3" height="6" fill="#000096" />
<rect x="196" y="224" width="1" height="8" fill="#000096" />
<rect x="195" y="226" width="3" height="4" fill="#000096" />
<rect x="200" y="230" width="1" height="9" fill="#000096" />
<rect x="199" y="232" width="3" height="5" fill="#000096" />
<rect x="204" y="228" width="1" height="6" fill="#ff0000" />
<rect x="203" y="230" width="3" height="2" fill="#ff0000" />
<rect x="208" y="228" width="1" height="8" fill="#ff0000" />
<rect x="207" y="230" width="3" height="4" fill="#ff0000" />
<rect x="212" y="229" width="1" height="8" fill="#ff0000" />
<rect x="211" y="231" width="3" height="4" fill="#ff0000" />
<rect x="216" y="228" width="1" height="9" fill="#000096" />
<rect x="215" y="230" width="3" height="5" fill="#000096" />
<rect x="220" y="238" width="1" height="12" fill="#000096" />
<rect x="219" y="240" width="3" height="8" fill="#000096" />
<rect x="224" y="247" width="1" height="10" fill="#ff0000" />
<rect x="223" y="249" width="3" height="6" fill="#ff0000" />
<rect x="228" y="246" width="1" height="8" fill="#ff0000" />
<rect x="227" y="248" width="3" height="4" fill="#ff0000" />
<rect x="232" y="248" width="1" height="8" fill="#ff0000" />
<rect x="231" y="250" width="3" height="4" fill="#ff0000" />
<rect x="236" y="250" width="1" height="8" fill="#ff0000" />
<rect x="235" y="252" width="3" height="4" fill="#ff0000" />
<rect x="240" y="246" width="1" height="7" fill="#000096" />
<rect x="239" y="248" width="3" height="3" fill="#000096" />
<rect x="244" y="242" width="1" height="9" fill="#ff0000" />
<rect x="243" y="244" width="3" height="5" fill="#ff0000" />
<rect x="248" y="246" width="1" height="8" fill="#000096" />
<rect x="247" y="248" width="3" height="4" fill="#000096" />
<rect x="252" y="251" width="1" height="7" fill="#000096" />
<rect x="251" y="253" width="3" height="3" fill="#000096" />
<rect x="256" y="257" width="1" height="7" fill="#000096" />
<rect x="255" y="259" width="3" height="3" fill="#000096" />
<rect x="260" y="263" width="1" height="8" fill="#000096" />
<rect x="259" y="265" width="3" height="4" fill="#000096" />
<rect x="264" y="264" width="1" height="6" fill="#000096" />
<rect x="263" y="266" width="3" height="2" fill="#000096" />
<rect x="268" y="259" width="1" height="13" fill="#ff0000" />
<rect x="267" y="261" width="3" height="9" fill="#ff0000" />
<rect x="272" y="248" width="1" height="7" fill="#ff0000" />
<rect x="271" y="250" width="3" height="3" fill="#ff0000" />
<rect x="276" y="259" width="1" height="12" fill="#000096" />
<rect x="275" y="261" width="3" height="8" fill="#000096" />
<rect x="280" y="262" width="1" height="10" fill="#ff0000" />
<rect x="279" y="264" width="3" height="6" fill="#ff0000" />
<rect x="284" y="255" width="1" height="8" fill="#000096" />
<rect x="283" y="257" width="3" height="4" fill="#000096" />
<rect x="288" y="253" width="1" height="6" fill="#ff0000" />
<rect x="287" y="255" width="3" height="2" fill="#ff0000" />
<rect x="292" y="244" width="1" height="9" fill="#ff0000" />
<rect x="291" y="246" width="3" height="5" fill="#ff0000" />
<rect x="296" y="245" width="1" height="5" fill="#000096" />
<rect x="295" y="247" width="3" height="1" fill="#000096" />
<rect x="300" y="254" width="1" height="8" fill="#000096" />
<rect x="299" y="256" width="3" height="4" fill="#000096" />
<rect x="304" y="252" width="1" height="7" fill="#000096" />
<rect x="303" y="254" width="3" height="3" fill="#000096" />
<rect x="308" y="247" width="1" height="9" fill="#ff0000" />
<rect x="307" y="249" width="3" height="5" fill="#ff0000" />
<rect x="312" y="241" width="1" height="5" fill="#000096" />
<rect x="311" y="243" width="3" height="1" fill="#000096" />
<rect x="316" y="243" width="1" height="6" fill="#000096" />
<rect x="315" y="245" width="3" height="2" fill="#000096" />
<rect x="320" y="233" width="1" height="18" fill="#ff0000" />
<rect x="319" y="235" width="3" height="14" fill="#ff0000" />
<rect x="324" y="230" width="1" height="8" fill="#000096" />
<rect x="323" y="232" width="3" height="4" fill="#000096" />
<rect x="328" y="229" width="1" height="7" fill="#ff0000" />
<rect x="327" y="231" width="3" height="3" fill="#ff0000" />
<rect x="332" y="226" width="1" height="8" fill="#000096" />
<rect x="331" y="228" width="3" height="4" fill="#000096" />
<rect x="336" y="230" width="1" height="6" fill="#ff0000" />
<rect x="335" y="232" width="3" height="2" fill="#ff0000" />
<rect x="340" y="234" width="1" height="8" fill="#ff0000" />
<rect x="339" y="236" width="3" height="4" fill="#ff0000" />
<rect x="344" y="230" width="1" height="7" fill="#ff0000" />
<rect x="343" y="232" width="3" height="3" fill="#ff0000" />
<rect x="348" y="232" width="1" height="6" fill="#000096" />
<rect x="347" y="234" width="3" height="2" fill="#000096" />
<rect x="352" y="230" width="1" height="7" fill="#ff0000" />
<rect x="351" y="232" width="3" height="3" fill="#ff0000" />
<rect x="356" y="232" width="1" height="13" fill="#000096" />
<rect x="355" y="234" width="3" height="9" fill="#000096" />
<rect x="360" y="237" width="1" height="8" fill="#000096" />
<rect x="359" y="239" width="3" height="4" fill="#000096" />
<rect x="364" y="238" width="1" height="7" fill="#000096" />
<rect x="363" y="240" width="3" height="3" fill="#000096" />
<rect x="368" y="234" width="1" height="14" fill="#ff0000" />
<rect x="367" y="236" width="3" height="10" fill="#ff0000" />
<rect x="372" y="226" width="1" height="10" fill="#ff0000" />
<rect x="371" y="228" width="3" height="6" fill="#ff0000" />
<rect x="376" y="226" width="1" height="6" fill="#ff0000" />
<rect x="375" y="228" width="3" height="2" fill="#ff0000" />
<rect x="380" y="227" width="1" height="8" fill="#000096" />
<rect x="379" y="229" width="3" height="4" fill="#000096" />
<rect x="384" y="228" width="1" height="16" fill="#000096" />
<rect x="383" y="230" width="3" height="12" fill="#000096" />
<rect x="388" y="234" width="1" height="10" fill="#000096" />
<rect x="387" y="236" width="3" height="6" fill="#000096" />
<rect x="392" y="230" width="1" height="8" fill="#ff0000" />
<rect x="391" y="232" width="3" height="4" fill="#ff0000" />
<rect x="396" y="232" width="1" height="6" fill="#000096" />
<rect x="395" y="234" width="3" height="2" fill="#000096" />
<rect x="400" y="233" width="1" height="7" fill="#000096" />
<rect x="399" y="235" width="3" height="3" fill="#000096" />
<rect x="404" y="231" width="1" height="6" fill="#ff0000" />
<rect x="403" y="233" width="3" height="2" fill="#ff0000" />
<rect x="408" y="240" width="1" height="7" fill="#000096" />
<rect x="407" y="242" width="3" height="3" fill="#000096" />
<rect x="412" y="237" width="1" height="8" fill="#000096" />
<rect x="411" y="239" width="3" height="4" fill="#000096" />
<rect x="416" y="238" width="1" height="5" fill="#ff0000" />
<rect x="415" y="240" width="3" height="1" fill="#ff0000" />
<rect x="420" y="238" width="1" height="7" fill="#000096" />
<rect x="419" y="240" width="3" height="3" fill="#000096" />
<rect x="424" y="239" width="1" height="7" fill="#000096" />
<rect x="423" y="241" width="3" height="3" fill="#000096" />
<rect x="428" y="238" width="1" height="6" fill="#000096" />
<rect x="427" y="240" width="3" height="2" fill="#000096" />
<rect x="432" y="239" width="1" height="7" fill="#ff0000" />
<rect x="431" y="241" width="3" height="3" fill="#ff0000" />
<rect x="436" y="244" width="1" height="9" fill="#000096" />
<rect x="435" y="246" width="3" height="5" fill="#000096" />
<rect x="440" y="246" width="1" height="10" fill="#000096" />
<rect x="439" y="248" width="3" height="6" fill="#000096" />
<rect x="444" y="250" width="1" height="6" fill="#ff0000" />
<rect x="443" y="252" width="3" height="2" fill="#ff0000" />
<rect x="448" y="242" width="1" height="8" fill="#ff0000" />
<rect x="447" y="244" width="3" height="4" fill="#ff0000" />
<rect x="452" y="228" width="1" height="12" fill="#ff0000" />
<rect x="451" y="230" width="3" height="8" fill="#ff0000" />
<rect x="456" y="225" width="1" height="6" fill="#ff0000" />
<rect x="455" y="227" width="3" height="2" fill="#ff0000" />
<rect x="460" y="225" width="1" height="7" fill="#ff0000" />
<rect x="459" y="227" width="3" height="3" fill="#ff0000" />
<rect x="464" y="219" width="1" height="9" fill="#ff0000" />
<rect x="463" y="221" width="3" height="5" fill="#ff0000" />
<rect x="468" y="217" width="1" height="6" fill="#000096" />
<rect x="467" y="219" width="3" height="2" fill="#000096" />
<rect x="472" y="220" width="1" height="9" fill="#000096" />
<rect x="471" y="222" width="3" height="5" fill="#000096" />
<rect x="476" y="219" width="1" height="7" fill="#ff0000" />
<rect x="475" y="221" width="3" height="3" fill="#ff0000" />
<rect x="480" y="216" width="1" height="8" fill="#000096" />
<rect x="479" y="218" width="3" height="4" fill="#000096" />
<rect x="484" y="222" width="1" height="9" fill="#ff0000" />
<rect x="483" y="224" width="3" height="5" fill="#ff0000" />
<rect x="488" y="210" width="1" height="14" fill="#ff0000" />
<rect x="487" y="212" width="3" height="10" fill="#ff0000" />
<rect x="492" y="206" width="1" height="9" fill="#000096" />
<rect x="491" y="208" width="3" height="5" fill="#000096" />
<rect x="496" y="204" width="1" height="8" fill="#000096" />
<rect x="495" y="206" width="3" height="4" fill="#000096" />
<rect x="500" y="210" width="1" height="10" fill="#ff0000" />
<rect x="499" y="212" width="3" height="6" fill="#ff0000" />
<rect x="504" y="206" width="1" height="8" fill="#000096" />
<rect x="503" y="208" width="3" height="4" fill="#000096" />
<rect x="508" y="206" width="1" height="8" fill="#000096" />
<rect x="507" y="208" width="3" height="4" fill="#000096" />
<rect x="512" y="204" width="1" height="8" fill="#ff0000" />
<rect x="511" y="206" width="3" height="4" fill="#ff0000" />
<rect x="516" y="207" width="1" height="11" fill="#000096" />
<rect x="515" y="209" width="3" height="7" fill="#000096" />
<rect x="520" y="212" width="1" height="6" fill="#ff0000" />
<rect x="519" y="214" width="3" height="2" fill="#ff0000" />
<rect x="524" y="202" width="1" height="7" fill="#ff0000" />
<rect x="523" y="204" width="3" height="3" fill="#ff0000" />
<rect x="528" y="199" width="1" height="9" fill="#000096" />
<rect x="527" y="201" width="3" height="5" fill="#000096" />
<rect x="532" y="203" width="1" height="5" fill="#000096" />
<rect x="531" y="205" width="3" height="1" fill="#000096" />
<rect x="536" y="203" width="1" height="7" fill="#000096" />
<rect x="535" y="205" width="3" height="3" fill="#000096" />
<rect x="540" y="200" width="1" height="7" fill="#ff0000" />
<rect x="539" y="202" width="3" height="3" fill="#ff0000" />
<rect x="544" y="198" width="1" height="6" fill="#ff0000" />
<rect x="543" y="200" width="3" height="2" fill="#ff0000" />
<rect x="548" y="193" width="1" height="11" fill="#000096" />
<rect x="547" y="195" width="3" height="7" fill="#000096" />
<rect x="552" y="198" width="1" height="7" fill="#ff0000" />
<rect x="551" y="200" width="3" height="3" fill="#ff0000" />
<rect x="556" y="196" width="1" height="7" fill="#ff0000" />
<rect x="555" y="198" width="3" height="3" fill="#ff0000" />
<rect x="560" y="195" width="1" height="7" fill="#000096" />
<rect x="559" y="197" width="3" height="3" fill="#000096" />
<rect x="564" y="196" width="1" height="6" fill="#ff0000" />
<rect x="563" y="198" width="3" height="2" fill="#ff0000" />
<rect x="568" y="197" width="1" height="6" fill="#000096" />
<rect x="567" y="199" width="3" height="2" fill="#000096" />
<rect x="572" y="198" width="1" height="8" fill="#000096" />
<rect x="571" y="200" width="3" height="4" fill="#000096" />
<rect x="576" y="193" width="1" height="9" fill="#ff0000" />
<rect x="575" y="195" width="3" height="5" fill="#ff0000" />
<rect x="580" y="193" width="1" height="8" fill="#000096" />
<rect x="579" y="195" width="3" height="4" fill="#000096" />
<rect x="584" y="197" width="1" height="6" fill="#ff0000" />
<rect x="583" y="199" width="3" height="2" fill="#ff0000" />
<rect x="588" y="194" width="1" height="7" fill="#ff0000" />
<rect x="587" y="196" width="3" height="3" fill="#ff0000" />
<rect x="592" y="195" width="1" height="7" fill="#000096" />
<rect x="591" y="197" width="3" height="3" fill="#000096" />
<rect x="596" y="196" width="1" height="7" fill="#ff0000" />
<rect x="595" y="198" width="3" height="3" fill="#ff0000" />
<rect x="600" y="197" width="1" height="7" fill="#000096" />
<rect x="599" y="199" width="3" height="3" fill="#000096" />
<rect x="604" y="192" width="1" height="7" fill="#ff0000" />
<rect x="603" y="194" width="3" height="3" fill="#ff0000" />
<rect x="608" y="192" width="1" height="6" fill="#000096" />
<rect x="607" y="194" width="3" height="2" fill="#000096" />
<rect x="612" y="186" width="1" height="7" fill="#ff0000" />
<rect x="611" y="188" width="3" height="3" fill="#ff0000" />
<rect x="616" y="185" width="1" height="7" fill="#ff0000" />
<rect x="615" y="187" width="3" height="3" fill="#ff0000" />
<rect x="620" y="186" width="1" height="7" fill="#ff0000" />
<rect x="619" y="188" width="3" height="3" fill="#ff0000" />
<rect x="624" y="184" width="1" height="8" fill="#000096" />
<rect x="623" y="186" width="3" height="4" fill="#000096" />
<rect x="628" y="182" width="1" height="6" fill="#000096" />
<rect x="627" y="184" width="3" height="2" fill="#000096" />
<rect x="632" y="184" width="1" height="7" fill="#000096" />
<rect x="631" y="186" width="3" height="3" fill="#000096" />
<rect x="636" y="184" width="1" height="7" fill="#000096" />
<rect x="635" y="186" width="3" height="3" fill="#000096" />
<rect x="640" y="186" width="1" height="7" fill="#ff0000" />
<rect x="639" y="188" width="3" height="3" fill="#ff0000" />
<rect x="644" y="183" width="1" height="7" fill="#000096" />
<rect x="643" y="185" width="3" height="3" fill="#000096" />
<rect x="648" y="188" width="1" height="7" fill="#000096" />
<rect x="647" y="190" width="3" height="3" fill="#000096" />
<rect x="652" y="189" width="1" height="13" fill="#000096" />
<rect x="651" y="191" width="3" height="9" fill="#000096" />
<rect x="656" y="194" width="1" height="8" fill="#ff0000" />
<rect x="655" y="196" width="3" height="4" fill="#ff0000" />
<rect x="660" y="191" width="1" height="7" fill="#ff0000" />
<rect x="659" y="193" width="3" height="3" fill="#ff0000" />
<rect x="664" y="191" width="1" height="6" fill="#000096" />
<rect x="663" y="193" width="3" height="2" fill="#000096" />
<rect x="668" y="188" width="1" height="7" fill="#ff0000" />
<rect x="667" y="190" width="3" height="3" fill="#ff0000" />
<rect x="672" y="189" width="1" height="10" fill="#000096" />
<rect x="671" y="191" width="3" height="6" fill="#000096" />
<rect x="676" y="199" width="1" height="6" fill="#ff0000" />
<rect x="675" y="201" width="3" height="2" fill="#ff0000" />
<rect x="680" y="198" width="1" height="6" fill="#000096" />
<rect x="679" y="200" width="3" height="2" fill="#000096" />
<rect x="684" y="189" width="1" height="8" fill="#ff0000" />
<rect x="683" y="191" width="3" height="4" fill="#ff0000" />
<rect x="688" y="191" width="1" height="6" fill="#000096" />
<rect x="687" y="193" width="3" height="2" fill="#000096" />
<rect x="692" y="184" width="1" height="7" fill="#ff0000" />
<rect x="691" y="186" width="3" height="3" fill="#ff0000" />
<rect x="696" y="181" width="1" height="7" fill="#000096" />
<rect x="695" y="183" width="3" height="3" fill="#000096" />
<rect x="700" y="180" width="1" height="6" fill="#000096" />
<rect x="699" y="182" width="3" height="2" fill="#000096" />
<rect x="704" y="179" width="1" height="7" fill="#000096" />
<rect x="703" y="181" width="3" height="3" fill="#000096" />
<rect x="708" y="182" width="1" height="6" fill="#ff0000" />
<rect x="707" y="184" width="3" height="2" fill="#ff0000" />
<rect x="712" y="177" width="1" height="7" fill="#ff0000" />
<rect x="711" y="179" width="3" height="3" fill="#ff0000" />
<rect x="716" y="175" width="1" height="6" fill="#ff0000" />
<rect x="715" y="177" width="3" height="2" fill="#ff0000" />
<rect x="720" y="172" width="1" height="8" fill="#ff0000" />
<rect x="719" y="174" width="3" height="4" fill="#ff0000" />
<rect x="724" y="169" width="1" height="7" fill="#000096" />
<rect x="723" y="171" width="3" height="3" fill="#000096" />
<rect x="728" y="171" width="1" height="6" fill="#ff0000" />
<rect x="727" y="173" width="3" height="2" fill="#ff0000" />
<rect x="732" y="170" width="1" height="7" fill="#ff0000" />
<rect x="731" y="172" width="3" height="3" fill="#ff0000" />
<rect x="736" y="176" width="1" height="9" fill="#000096" />
<rect x="735" y="178" width="3" height="5" fill="#000096" />
<rect x="740" y="178" width="1" height="10" fill="#000096" />
<rect x="739" y="180" width="3" height="6" fill="#000096" />
<rect x="744" y="185" width="1" height="10" fill="#000096" />
<rect x="743" y="187" width="3" height="6" fill="#000096" />
<rect x="748" y="186" width="1" height="7" fill="#ff0000" />
<rect x="747" y="188" width="3" height="3" fill="#ff0000" />
<rect x="752" y="182" width="1" height="11" fill="#ff0000" />
<rect x="751" y="184" width="3" height="7" fill="#ff0000" />
<rect x="756" y="175" width="1" height="9" fill="#ff0000" />
<rect x="755" y="177" width="3" height="5" fill="#ff0000" />
<rect x="760" y="182" width="1" height="10" fill="#000096" />
<rect x="759" y="184" width="3" height="6" fill="#000096" />
<rect x="764" y="182" width="1" height="9" fill="#ff0000" />
<rect x="763" y="184" width="3" height="5" fill="#ff0000" />
<rect x="768" y="176" width="1" height="8" fill="#000096" />
<rect x="767" y="178" width="3" height="4" fill="#000096" />
<rect x="772" y="182" width="1" height="10" fill="#000096" />
<rect x="771" y="184" width="3" height="6" fill="#000096" />
<rect x="776" y="186" width="1" height="5" fill="#ff0000" />
<rect x="775" y="188" width="3" height="1" fill="#ff0000" />
<rect x="780" y="182" width="1" height="6" fill="#000096" />
<rect x="779" y="184" width="3" height="2" fill="#000096" />
<rect x="784" y="186" width="1" height="9" fill="#000096" />
<rect x="783" y="188" width="3" height="5" fill="#000096" />
<rect x="788" y="196" width="1" height="7" fill="#000096" />
<rect x="787" y="198" width="3" height="3" fill="#000096" />
<rect x="792" y="210" width="1" height="24" fill="#000096" />
<rect x="791" y="212" width="3" height="20" fill="#000096" />
<rect x="796" y="238" width="1" height="44" fill="#000096" />
<rect x="795" y="240" width="3" height="40" fill="#000096" />
<rect x="800" y="253" width="1" height="21" fill="#ff0000" />
<rect x="799" y="255" width="3" height="17" fill="#ff0000" />
<rect x="804" y="261" width="1" height="7" fill="#ff0000" />
<rect x="803" y="263" width="3" height="3" fill="#ff0000" />
<rect x="808" y="248" width="1" height="12" fill="#ff0000" />
<rect x="807" y="250" width="3" height="8" fill="#ff0000" />
<rect x="812" y="230" width="1" height="14" fill="#ff0000" />
<rect x="811" y="232" width="3" height="10" fill="#ff0000" />
<rect x="816" y="231" width="1" height="11" fill="#000096" />
<rect x="815" y="233" width="3" height="7" fill="#000096" />
<rect x="820" y="234" width="1" height="8" fill="#000096" />
<rect x="819" y="236" width="3" height="4" fill="#000096" />
<rect x="824" y="232" width="1" height="7" fill="#000096" />
<rect x="823" y="234" width="3" height="3" fill="#000096" />
<rect x="828" y="234" width="1" height="6" fill="#000096" />
<rect x="827" y="236" width="3" height="2" fill="#000096" />
<rect x="832" y="237" width="1" height="10" fill="#ff0000" />
<rect x="831" y="239" width="3" height="6" fill="#ff0000" />
<rect x="836" y="226" width="1" height="14" fill="#ff0000" />
<rect x="835" y="228" width="3" height="10" fill="#ff0000" />
<rect x="840" y="222" width="1" height="8" fill="#000096" />
<rect x="839" y="224" width="3" height="4" fill="#000096" />
<rect x="844" y="222" width="1" height="8" fill="#000096" />
<rect x="843" y="224" width="3" height="4" fill="#000096" />
<rect x="848" y="221" width="1" height="9" fill="#000096" />
<rect x="847" y="223" width="3" height="5" fill="#000096" />
<rect x="852" y="226" width="1" height="8" fill="#000096" />
<rect x="851" y="228" width="3" height="4" fill="#000096" />
<rect x="856" y="227" width="1" height="9" fill="#000096" />
<rect x="855" y="229" width="3" height="5" fill="#000096" />
<rect x="860" y="229" width="1" height="6" fill="#000096" />
<rect x="859" y="231" width="3" height="2" fill="#000096" />
<rect x="864" y="221" width="1" height="14" fill="#ff0000" />
<rect x="863" y="223" width="3" height="10" fill="#ff0000" />
<rect x="868" y="224" width="1" height="5" fill="#000096" />
<rect x="867" y="226" width="3" height="1" fill="#000096" />
<rect x="872" y="230" width="1" height="8" fill="#000096" />
<rect x="871" y="232" width="3" height="4" fill="#000096" />
<rect x="876" y="229" width="1" height="9" fill="#ff0000" />
<rect x="875" y="231" width="3" height="5" fill="#ff0000" />
<rect x="880" y="229" width="1" height="7" fill="#ff0000" />
<rect x="879" y="231" width="3" height="3" fill="#ff0000" />
<rect x="884" y="228" width="1" height="7" fill="#000096" />
<rect x="883" y="230" width="3" height="3" fill="#000096" />
<rect x="796" y="280" width="1" height="19" fill="#000096" />
<rect x="804" y="256" width="1" height="22" fill="#ff0000" />
<text x="553" y="176" font-size="13.6" fill="#f00000" text-anchor="start" font-weight="normal" font-family='"Liberation Sans", "IPAGothic", sans-serif' textLength="137" lengthAdjust="spacingAndGlyphs" >10,891.60 (2011/02/17)</text>
<path d="M710,168.5 L725,168.5 M721,165.5 L725,168.5" stroke="#f00000" fill="none"/>
<text x="632" y="309" font-size="13.6" fill="#1010a0" text-anchor="start" font-weight="normal" font-family='"Liberation Sans", "IPAGothic", sans-serif' textLength="130" lengthAdjust="spacingAndGlyphs" >8,227.63 (2011/03/15)</text>
<path d="M782,301.5 L796,301.5 M792,304.5 L796,301.5" stroke="#1010a0" fill="none"/>
<text x="765" y="131" font-size="13.6" fill="#f00000" text-anchor="start" font-weight="normal" font-family='"Liberation Sans", "IPAGothic", sans-serif' textLength="60" lengthAdjust="spacingAndGlyphs" >H: −11.94%</text>
<text x="835.5" y="131" font-size="13.6" fill="#1010a0" text-anchor="start" font-weight="normal" font-family='"Liberation Sans", "IPAGothic", sans-serif' textLength="52" lengthAdjust="spacingAndGlyphs" >L: 16.58%</text>
<text x="11.5" y="115" font-size="13.5" fill="#000" text-anchor="start" font-weight="normal" font-family='"Liberation Sans", "IPAGothic", "Noto Sans CJK JP", sans-serif' textLength="94.5" lengthAdjust="spacingAndGlyphs" >日経平均(指数)</text>
<text x="107.5" y="115" font-size="13.6" fill="#000" text-anchor="start" font-weight="normal" font-family='"Liberation Sans", "IPAGothic", sans-serif' textLength="89.5" lengthAdjust="spacingAndGlyphs" >Bollinger_Bands</text>
<text x="199.5" y="115" font-size="13.6" fill="#000" text-anchor="start" font-weight="normal" font-family='"Liberation Sans", "IPAGothic", sans-serif' textLength="35.5" lengthAdjust="spacingAndGlyphs" >(20,2)</text>
<text x="236" y="115" font-size="13.6" fill="#000" text-anchor="start" font-weight="normal" font-family='"Liberation Sans", "IPAGothic", sans-serif' textLength="69" lengthAdjust="spacingAndGlyphs" >2011/04/15</text>
<text x="310.5" y="115" font-size="13.6" fill="#109a3c" text-anchor="start" font-weight="normal" font-family='"Liberation Sans", "IPAGothic", sans-serif' textLength="47.5" lengthAdjust="spacingAndGlyphs" >9,589.25</text>
<text x="362.5" y="115" font-size="13.6" fill="#f06010" text-anchor="start" font-weight="normal" font-family='"Liberation Sans", "IPAGothic", sans-serif' textLength="48.5" lengthAdjust="spacingAndGlyphs" >9,854.80</text>
<text x="414" y="115" font-size="13.6" fill="#1060e0" text-anchor="start" font-weight="normal" font-family='"Liberation Sans", "IPAGothic", sans-serif' textLength="48.5" lengthAdjust="spacingAndGlyphs" >9,323.70</text>
<rect x="11" y="338" width="873" height="1" fill="#1060e0" />
<rect x="11" y="415" width="873" height="1" fill="#f06010" />
<polyline points="11.5,393.5 12.5,389.5 36.5,389.5 41.5,376.5 44.5,376.5 49.5,363.5 92.5,363.5 98.5,379.5 108.5,415.5 112.5,415.5 120.5,389.5 124.5,402.5 133.5,376.5 136.5,389.5 140.5,389.5 144.5,376.5 157.5,376.5 165.5,402.5 168.5,402.5 172.5,389.5 177.5,402.5 192.5,402.5 196.5,389.5 200.5,389.5 205.5,376.5 212.5,376.5 221.5,402.5 248.5,402.5 252.5,415.5 260.5,415.5 272.5,376.5 276.5,389.5 284.5,363.5 300.5,363.5 308.5,339.5 312.5,339.5 317.5,350.5 329.5,350.5 341.5,389.5 344.5,376.5 352.5,376.5 357.5,389.5 369.5,389.5 373.5,376.5 377.5,389.5 384.5,389.5 389.5,376.5 397.5,376.5 401.5,389.5 404.5,376.5 408.5,389.5 416.5,389.5 421.5,402.5 425.5,402.5 430.5,389.5 433.5,389.5 441.5,415.5 448.5,389.5 452.5,389.5 456.5,376.5 464.5,376.5 468.5,363.5 481.5,363.5 489.5,339.5 496.5,339.5 501.5,350.5 513.5,350.5 517.5,363.5 520.5,350.5 525.5,350.5 529.5,339.5 536.5,363.5 552.5,363.5 557.5,350.5 560.5,363.5 565.5,350.5 573.5,376.5 588.5,376.5 592.5,389.5 596.5,376.5 600.5,389.5 612.5,389.5 617.5,376.5 625.5,376.5 628.5,363.5 636.5,363.5 641.5,350.5 649.5,350.5 652.5,363.5 657.5,350.5 661.5,350.5 664.5,363.5 668.5,350.5 676.5,376.5 681.5,363.5 684.5,363.5 689.5,376.5 692.5,376.5 700.5,350.5 708.5,376.5 712.5,363.5 716.5,363.5 724.5,338.5 737.5,338.5 744.5,364.5 748.5,364.5 756.5,338.5 761.5,350.5 768.5,350.5 772.5,364.5 792.5,364.5 796.5,376.5 801.5,376.5 805.5,389.5 809.5,376.5 813.5,376.5 817.5,389.5 824.5,389.5 829.5,402.5 832.5,402.5 840.5,376.5 852.5,376.5 857.5,389.5 860.5,389.5 864.5,376.5 868.5,376.5 872.5,389.5 880.5,364.5 884.5,375.5" fill="none" stroke="#109a3c" stroke-width="1" shape-rendering="crispEdges"/>
<text x="11.5" y="329" font-size="12.5" fill="#000" text-anchor="start" font-weight="normal" font-family='"Liberation Sans", "IPAGothic", "Noto Sans CJK JP", sans-serif' textLength="121" lengthAdjust="spacingAndGlyphs" >サイコロジカルライン</text>
<text x="135" y="329" font-size="13.6" fill="#000" text-anchor="start" font-weight="normal" font-family='"Liberation Sans", "IPAGothic", sans-serif' textLength="26" lengthAdjust="spacingAndGlyphs" >(12)</text>
<text x="163.5" y="329" font-size="13.6" fill="#000" text-anchor="start" font-weight="normal" font-family='"Liberation Sans", "IPAGothic", sans-serif' textLength="68.5" lengthAdjust="spacingAndGlyphs" >2011/04/15</text>
<text x="237" y="329" font-size="13.6" fill="#109a3c" text-anchor="start" font-weight="normal" font-family='"Liberation Sans", "IPAGothic", sans-serif' textLength="32" lengthAdjust="spacingAndGlyphs" >50.00</text>
<text x="272.5" y="329" font-size="13.6" fill="#f06010" text-anchor="start" font-weight="normal" font-family='"Liberation Sans", "IPAGothic", sans-serif' textLength="31.5" lengthAdjust="spacingAndGlyphs" >25.00</text>
<text x="308.3" y="329" font-size="13.6" fill="#1060e0" text-anchor="start" font-weight="normal" font-family='"Liberation Sans", "IPAGothic", sans-serif' textLength="31" lengthAdjust="spacingAndGlyphs" >75.00</text>
<rect x="11" y="469" width="873" height="1" fill="#ff00ff" />
<rect x="12" y="470" width="1" height="9" fill="#0000ff" />
<rect x="16" y="470" width="1" height="7" fill="#0000ff" />
<rect x="20" y="470" width="1" height="5" fill="#0000ff" />
<rect x="24" y="470" width="1" height="3" fill="#0000ff" />
<rect x="28" y="468" width="1" height="1" fill="#ff0000" />
<rect x="32" y="465" width="1" height="4" fill="#ff0000" />
<rect x="36" y="467" width="1" height="2" fill="#ff0000" />
<rect x="40" y="467" width="1" height="2" fill="#ff0000" />
<rect x="44" y="468" width="1" height="1" fill="#ff0000" />
<rect x="48" y="467" width="1" height="2" fill="#ff0000" />
<rect x="52" y="465" width="1" height="4" fill="#ff0000" />
<rect x="56" y="462" width="1" height="7" fill="#ff0000" />
<rect x="60" y="460" width="1" height="9" fill="#ff0000" />
<rect x="64" y="457" width="1" height="12" fill="#ff0000" />
<rect x="68" y="457" width="1" height="12" fill="#ff0000" />
<rect x="72" y="456" width="1" height="13" fill="#ff0000" />
<rect x="76" y="455" width="1" height="14" fill="#ff0000" />
<rect x="80" y="455" width="1" height="14" fill="#ff0000" />
<rect x="84" y="457" width="1" height="12" fill="#ff0000" />
<rect x="88" y="460" width="1" height="9" fill="#ff0000" />
<rect x="92" y="462" width="1" height="7" fill="#ff0000" />
<rect x="96" y="466" width="1" height="3" fill="#ff0000" />
<rect x="100" y="468" width="1" height="1" fill="#ff0000" />
<rect x="104" y="470" width="1" height="4" fill="#0000ff" />
<rect x="108" y="470" width="1" height="7" fill="#0000ff" />
<rect x="112" y="470" width="1" height="8" fill="#0000ff" />
<rect x="116" y="470" width="1" height="8" fill="#0000ff" />
<rect x="120" y="470" width="1" height="7" fill="#0000ff" />
<rect x="124" y="470" width="1" height="6" fill="#0000ff" />
<rect x="128" y="470" width="1" height="3" fill="#0000ff" />
<rect x="132" y="468" width="1" height="1" fill="#ff0000" />
<rect x="136" y="467" width="1" height="2" fill="#ff0000" />
<rect x="140" y="466" width="1" height="3" fill="#ff0000" />
<rect x="144" y="463" width="1" height="6" fill="#ff0000" />
<rect x="148" y="462" width="1" height="7" fill="#ff0000" />
<rect x="152" y="464" width="1" height="5" fill="#ff0000" />
<rect x="156" y="467" width="1" height="2" fill="#ff0000" />
<rect x="160" y="468" width="1" height="1" fill="#ff0000" />
<rect x="164" y="470" width="1" height="1" fill="#0000ff" />
<rect x="172" y="468" width="1" height="1" fill="#ff0000" />
<rect x="176" y="466" width="1" height="3" fill="#ff0000" />
<rect x="180" y="463" width="1" height="6" fill="#ff0000" />
<rect x="184" y="462" width="1" height="7" fill="#ff0000" />
<rect x="188" y="462" width="1" height="7" fill="#ff0000" />
<rect x="192" y="463" width="1" height="6" fill="#ff0000" />
<rect x="196" y="463" width="1" height="6" fill="#ff0000" />
<rect x="200" y="463" width="1" height="6" fill="#ff0000" />
<rect x="204" y="464" width="1" height="5" fill="#ff0000" />
<rect x="208" y="464" width="1" height="5" fill="#ff0000" />
<rect x="212" y="465" width="1" height="4" fill="#ff0000" />
<rect x="216" y="467" width="1" height="2" fill="#ff0000" />
<rect x="220" y="470" width="1" height="2" fill="#0000ff" />
<rect x="224" y="470" width="1" height="4" fill="#0000ff" />
<rect x="228" y="470" width="1" height="5" fill="#0000ff" />
<rect x="232" y="470" width="1" height="6" fill="#0000ff" />
<rect x="236" y="470" width="1" height="6" fill="#0000ff" />
<rect x="240" y="470" width="1" height="4" fill="#0000ff" />
<rect x="244" y="470" width="1" height="3" fill="#0000ff" />
<rect x="248" y="470" width="1" height="3" fill="#0000ff" />
<rect x="252" y="470" width="1" height="4" fill="#0000ff" />
<rect x="256" y="470" width="1" height="5" fill="#0000ff" />
<rect x="260" y="470" width="1" height="7" fill="#0000ff" />
<rect x="264" y="470" width="1" height="7" fill="#0000ff" />
<rect x="268" y="470" width="1" height="6" fill="#0000ff" />
<rect x="272" y="470" width="1" height="4" fill="#0000ff" />
<rect x="276" y="470" width="1" height="3" fill="#0000ff" />
<rect x="280" y="470" width="1" height="2" fill="#0000ff" />
<rect x="288" y="468" width="1" height="1" fill="#ff0000" />
<rect x="292" y="465" width="1" height="4" fill="#ff0000" />
<rect x="296" y="463" width="1" height="6" fill="#ff0000" />
<rect x="300" y="465" width="1" height="4" fill="#ff0000" />
<rect x="304" y="465" width="1" height="4" fill="#ff0000" />
<rect x="308" y="463" width="1" height="6" fill="#ff0000" />
<rect x="312" y="462" width="1" height="7" fill="#ff0000" />
<rect x="316" y="461" width="1" height="8" fill="#ff0000" />
<rect x="320" y="460" width="1" height="9" fill="#ff0000" />
<rect x="324" y="459" width="1" height="10" fill="#ff0000" />
<rect x="328" y="458" width="1" height="11" fill="#ff0000" />
<rect x="332" y="458" width="1" height="11" fill="#ff0000" />
<rect x="336" y="460" width="1" height="9" fill="#ff0000" />
<rect x="340" y="461" width="1" height="8" fill="#ff0000" />
<rect x="344" y="462" width="1" height="7" fill="#ff0000" />
<rect x="348" y="463" width="1" height="6" fill="#ff0000" />
<rect x="352" y="463" width="1" height="6" fill="#ff0000" />
<rect x="356" y="466" width="1" height="3" fill="#ff0000" />
<rect x="360" y="468" width="1" height="1" fill="#ff0000" />
<rect x="372" y="467" width="1" height="2" fill="#ff0000" />
<rect x="376" y="466" width="1" height="3" fill="#ff0000" />
<rect x="380" y="467" width="1" height="2" fill="#ff0000" />
<rect x="388" y="470" width="1" height="1" fill="#0000ff" />
<rect x="392" y="470" width="1" height="1" fill="#0000ff" />
<rect x="396" y="470" width="1" height="1" fill="#0000ff" />
<rect x="400" y="470" width="1" height="1" fill="#0000ff" />
<rect x="404" y="470" width="1" height="2" fill="#0000ff" />
<rect x="408" y="470" width="1" height="2" fill="#0000ff" />
<rect x="412" y="470" width="1" height="3" fill="#0000ff" />
<rect x="416" y="470" width="1" height="3" fill="#0000ff" />
<rect x="420" y="470" width="1" height="3" fill="#0000ff" />
<rect x="424" y="470" width="1" height="3" fill="#0000ff" />
<rect x="428" y="470" width="1" height="4" fill="#0000ff" />
<rect x="432" y="470" width="1" height="4" fill="#0000ff" />
<rect x="436" y="470" width="1" height="5" fill="#0000ff" />
<rect x="440" y="470" width="1" height="5" fill="#0000ff" />
<rect x="444" y="470" width="1" height="6" fill="#0000ff" />
<rect x="448" y="470" width="1" height="4" fill="#0000ff" />
<rect x="452" y="468" width="1" height="1" fill="#ff0000" />
<rect x="456" y="466" width="1" height="3" fill="#ff0000" />
<rect x="460" y="463" width="1" height="6" fill="#ff0000" />
<rect x="464" y="462" width="1" height="7" fill="#ff0000" />
<rect x="468" y="460" width="1" height="9" fill="#ff0000" />
<rect x="472" y="461" width="1" height="8" fill="#ff0000" />
<rect x="476" y="461" width="1" height="8" fill="#ff0000" />
<rect x="480" y="462" width="1" height="7" fill="#ff0000" />
<rect x="484" y="463" width="1" height="6" fill="#ff0000" />
<rect x="488" y="462" width="1" height="7" fill="#ff0000" />
<rect x="492" y="462" width="1" height="7" fill="#ff0000" />
<rect x="496" y="461" width="1" height="8" fill="#ff0000" />
<rect x="500" y="462" width="1" height="7" fill="#ff0000" />
<rect x="504" y="463" width="1" height="6" fill="#ff0000" />
<rect x="508" y="464" width="1" height="5" fill="#ff0000" />
<rect x="512" y="465" width="1" height="4" fill="#ff0000" />
<rect x="516" y="467" width="1" height="2" fill="#ff0000" />
<rect x="520" y="468" width="1" height="1" fill="#ff0000" />
<rect x="524" y="468" width="1" height="1" fill="#ff0000" />
<rect x="528" y="467" width="1" height="2" fill="#ff0000" />
<rect x="532" y="468" width="1" height="1" fill="#ff0000" />
<rect x="536" y="468" width="1" height="1" fill="#ff0000" />
<rect x="540" y="468" width="1" height="1" fill="#ff0000" />
<rect x="544" y="468" width="1" height="1" fill="#ff0000" />
<rect x="548" y="468" width="1" height="1" fill="#ff0000" />
<rect x="552" y="468" width="1" height="1" fill="#ff0000" />
<rect x="556" y="468" width="1" height="1" fill="#ff0000" />
<rect x="560" y="468" width="1" height="1" fill="#ff0000" />
<rect x="572" y="470" width="1" height="2" fill="#0000ff" />
<rect x="576" y="470" width="1" height="1" fill="#0000ff" />
<rect x="580" y="470" width="1" height="1" fill="#0000ff" />
<rect x="584" y="470" width="1" height="2" fill="#0000ff" />
<rect x="588" y="470" width="1" height="2" fill="#0000ff" />
<rect x="592" y="470" width="1" height="2" fill="#0000ff" />
<rect x="596" y="470" width="1" height="2" fill="#0000ff" />
<rect x="600" y="470" width="1" height="3" fill="#0000ff" />
<rect x="604" y="470" width="1" height="3" fill="#0000ff" />
<rect x="608" y="470" width="1" height="2" fill="#0000ff" />
<rect x="616" y="468" width="1" height="1" fill="#ff0000" />
<rect x="620" y="468" width="1" height="1" fill="#ff0000" />
<rect x="624" y="468" width="1" height="1" fill="#ff0000" />
<rect x="628" y="468" width="1" height="1" fill="#ff0000" />
<rect x="632" y="468" width="1" height="1" fill="#ff0000" />
<rect x="648" y="470" width="1" height="3" fill="#0000ff" />
<rect x="652" y="470" width="1" height="4" fill="#0000ff" />
<rect x="656" y="470" width="1" height="5" fill="#0000ff" />
<rect x="660" y="470" width="1" height="5" fill="#0000ff" />
<rect x="664" y="470" width="1" height="5" fill="#0000ff" />
<rect x="668" y="470" width="1" height="4" fill="#0000ff" />
<rect x="672" y="470" width="1" height="4" fill="#0000ff" />
<rect x="676" y="470" width="1" height="5" fill="#0000ff" />
<rect x="680" y="470" width="1" height="6" fill="#0000ff" />
<rect x="684" y="470" width="1" height="4" fill="#0000ff" />
<rect x="688" y="470" width="1" height="2" fill="#0000ff" />
<rect x="692" y="470" width="1" height="1" fill="#0000ff" />
<rect x="696" y="468" width="1" height="1" fill="#ff0000" />
<rect x="700" y="467" width="1" height="2" fill="#ff0000" />
<rect x="704" y="466" width="1" height="3" fill="#ff0000" />
<rect x="708" y="466" width="1" height="3" fill="#ff0000" />
<rect x="712" y="465" width="1" height="4" fill="#ff0000" />
<rect x="716" y="465" width="1" height="4" fill="#ff0000" />
<rect x="720" y="464" width="1" height="5" fill="#ff0000" />
<rect x="724" y="464" width="1" height="5" fill="#ff0000" />
<rect x="728" y="464" width="1" height="5" fill="#ff0000" />
<rect x="732" y="464" width="1" height="5" fill="#ff0000" />
<rect x="736" y="467" width="1" height="2" fill="#ff0000" />
<rect x="744" y="470" width="1" height="4" fill="#0000ff" />
<rect x="748" y="470" width="1" height="5" fill="#0000ff" />
<rect x="752" y="470" width="1" height="4" fill="#0000ff" />
<rect x="756" y="470" width="1" height="3" fill="#0000ff" />
<rect x="760" y="470" width="1" height="4" fill="#0000ff" />
<rect x="764" y="470" width="1" height="4" fill="#0000ff" />
<rect x="768" y="470" width="1" height="3" fill="#0000ff" />
<rect x="772" y="470" width="1" height="4" fill="#0000ff" />
<rect x="776" y="470" width="1" height="4" fill="#0000ff" />
<rect x="780" y="470" width="1" height="4" fill="#0000ff" />
<rect x="784" y="470" width="1" height="5" fill="#0000ff" />
<rect x="788" y="470" width="1" height="7" fill="#0000ff" />
<rect x="792" y="470" width="1" height="16" fill="#0000ff" />
<rect x="796" y="470" width="1" height="26" fill="#0000ff" />
<rect x="800" y="470" width="1" height="28" fill="#0000ff" />
<rect x="804" y="470" width="1" height="29" fill="#0000ff" />
<rect x="808" y="470" width="1" height="26" fill="#0000ff" />
<rect x="812" y="470" width="1" height="18" fill="#0000ff" />
<rect x="816" y="470" width="1" height="14" fill="#0000ff" />
<rect x="820" y="470" width="1" height="11" fill="#0000ff" />
<rect x="824" y="470" width="1" height="7" fill="#0000ff" />
<rect x="828" y="470" width="1" height="4" fill="#0000ff" />
<rect x="832" y="470" width="1" height="2" fill="#0000ff" />
<rect x="836" y="466" width="1" height="3" fill="#ff0000" />
<rect x="840" y="463" width="1" height="6" fill="#ff0000" />
<rect x="844" y="461" width="1" height="8" fill="#ff0000" />
<rect x="848" y="460" width="1" height="9" fill="#ff0000" />
<rect x="852" y="461" width="1" height="8" fill="#ff0000" />
<rect x="856" y="462" width="1" height="7" fill="#ff0000" />
<rect x="860" y="462" width="1" height="7" fill="#ff0000" />
<rect x="864" y="460" width="1" height="9" fill="#ff0000" />
<rect x="868" y="460" width="1" height="9" fill="#ff0000" />
<rect x="872" y="462" width="1" height="7" fill="#ff0000" />
<rect x="876" y="462" width="1" height="7" fill="#ff0000" />
<rect x="880" y="463" width="1" height="6" fill="#ff0000" />
<rect x="884" y="463" width="1" height="6" fill="#ff0000" />
<polyline points="10.5,516.5 17.5,514.5 24.5,513.5 32.5,506.5 37.5,508.5 47.5,508.5 54.5,503.5 63.5,492.5 71.5,482.5 80.5,475.5 88.5,474.5 96.5,478.5 103.5,484.5 111.5,492.5 120.5,496.5 128.5,494.5 138.5,489.5 147.5,481.5 157.5,483.5 165.5,486.5 174.5,481.5 184.5,475.5 194.5,473.5 204.5,471.5 214.5,470.5 224.5,476.5 233.5,480.5 241.5,482.5 245.5,481.5 255.5,486.5 265.5,490.5 272.5,489.5 279.5,491.5 288.5,487.5 296.5,481.5 304.5,480.5 311.5,476.5 319.5,472.5 326.5,464.5 336.5,457.5 348.5,456.5 358.5,458.5 365.5,461.5 373.5,458.5 381.5,458.5 390.5,461.5 402.5,462.5 414.5,464.5 427.5,467.5 439.5,471.5 445.5,476.5 451.5,473.5 458.5,466.5 466.5,459.5 476.5,456.5 480.5,454.5 489.5,450.5 497.5,446.5 507.5,446.5 517.5,446.5 522.5,448.5 529.5,446.5 541.5,447.5 554.5,446.5 566.5,446.5 573.5,449.5 583.5,450.5 593.5,452.5 603.5,454.5 610.5,454.5 622.5,452.5 635.5,452.5 647.5,454.5 654.5,459.5 664.5,461.5 674.5,463.5 681.5,467.5 689.5,466.5 698.5,461.5 711.5,459.5 715.5,456.5 722.5,453.5 732.5,451.5 739.5,454.5 744.5,459.5 752.5,462.5 757.5,461.5 765.5,464.5 772.5,465.5 781.5,467.5 788.5,471.5 792.5,480.5 796.5,497.5 802.5,510.5 808.5,522.5 814.5,518.5 821.5,517.5 827.5,513.5 835.5,509.5 844.5,498.5 851.5,494.5 860.5,490.5 868.5,486.5 875.5,485.5 884.5,482.5" fill="none" stroke="#109a3c" stroke-width="1" shape-rendering="crispEdges"/>
<polyline points="10.5,506.5 20.5,510.5 30.5,510.5 39.5,509.5 49.5,508.5 59.5,504.5 71.5,495.5 84.5,486.5 93.5,481.5 101.5,480.5 113.5,484.5 123.5,489.5 133.5,491.5 142.5,489.5 152.5,486.5 165.5,486.5 177.5,484.5 189.5,479.5 201.5,476.5 211.5,473.5 219.5,473.5 228.5,475.5 241.5,479.5 245.5,479.5 257.5,482.5 270.5,486.5 282.5,489.5 294.5,486.5 306.5,483.5 319.5,478.5 331.5,471.5 343.5,465.5 355.5,461.5 368.5,460.5 380.5,459.5 392.5,460.5 404.5,461.5 417.5,464.5 429.5,466.5 441.5,469.5 449.5,472.5 458.5,468.5 471.5,464.5 480.5,461.5 490.5,456.5 502.5,451.5 514.5,449.5 527.5,447.5 541.5,447.5 566.5,446.5 578.5,448.5 590.5,450.5 605.5,452.5 617.5,452.5 632.5,452.5 647.5,453.5 657.5,455.5 671.5,459.5 684.5,462.5 691.5,464.5 701.5,463.5 711.5,462.5 715.5,461.5 722.5,459.5 731.5,455.5 741.5,456.5 752.5,458.5 763.5,460.5 772.5,462.5 781.5,464.5 789.5,466.5 794.5,472.5 800.5,483.5 807.5,496.5 814.5,502.5 822.5,507.5 829.5,509.5 835.5,509.5 844.5,504.5 855.5,498.5 866.5,494.5 875.5,491.5 884.5,487.5" fill="none" stroke="#f06010" stroke-width="1" shape-rendering="crispEdges"/>
<text x="11.5" y="436" font-size="13.6" fill="#000" text-anchor="start" font-weight="normal" font-family='"Liberation Sans", "IPAGothic", sans-serif' textLength="104" lengthAdjust="spacingAndGlyphs" >MACD_EMA_Signal</text>
<text x="119" y="436" font-size="13.6" fill="#000" text-anchor="start" font-weight="normal" font-family='"Liberation Sans", "IPAGothic", sans-serif' textLength="51.7" lengthAdjust="spacingAndGlyphs" >(12,26,9)</text>
<text x="173" y="436" font-size="13.6" fill="#000" text-anchor="start" font-weight="normal" font-family='"Liberation Sans", "IPAGothic", sans-serif' textLength="69" lengthAdjust="spacingAndGlyphs" >2011/04/15</text>
<text x="247.5" y="436" font-size="13.6" fill="#109a3c" text-anchor="start" font-weight="normal" font-family='"Liberation Sans", "IPAGothic", sans-serif' textLength="37" lengthAdjust="spacingAndGlyphs" >−94.85</text>
<text x="290.4" y="436" font-size="13.6" fill="#f06010" text-anchor="start" font-weight="normal" font-family='"Liberation Sans", "IPAGothic", sans-serif' textLength="44.2" lengthAdjust="spacingAndGlyphs" >−131.34</text>
<text x="338.3" y="436" font-size="13.6" fill="#ff0000" text-anchor="start" font-weight="normal" font-family='"Liberation Sans", "IPAGothic", sans-serif' textLength="30.7" lengthAdjust="spacingAndGlyphs" >36.49</text>
<text x="373.8" y="436" font-size="13.6" fill="#ff00ff" text-anchor="start" font-weight="normal" font-family='"Liberation Sans", "IPAGothic", sans-serif' textLength="24.6" lengthAdjust="spacingAndGlyphs" >0.00</text>
<polyline points="10.5,593.5 17.5,585.5 25.5,578.5 32.5,574.5 42.5,578.5 52.5,584.5 62.5,577.5 71.5,567.5 80.5,568.5 88.5,575.5 98.5,585.5 108.5,593.5 116.5,594.5 125.5,589.5 135.5,577.5 145.5,569.5 155.5,575.5 162.5,580.5 168.5,587.5 177.5,583.5 187.5,571.5 196.5,572.5 206.5,578.5 216.5,579.5 226.5,584.5 236.5,589.5 243.5,585.5 245.5,584.5 255.5,580.5 265.5,586.5 274.5,584.5 287.5,578.5 299.5,574.5 311.5,575.5 324.5,571.5 336.5,567.5 348.5,574.5 360.5,580.5 370.5,580.5 380.5,576.5 390.5,576.5 400.5,581.5 412.5,580.5 427.5,582.5 436.5,581.5 449.5,583.5 458.5,574.5 468.5,565.5 476.5,567.5 480.5,570.5 487.5,576.5 497.5,574.5 504.5,571.5 514.5,576.5 524.5,578.5 534.5,577.5 544.5,575.5 554.5,575.5 566.5,577.5 578.5,578.5 590.5,577.5 603.5,578.5 615.5,575.5 627.5,574.5 637.5,577.5 647.5,579.5 657.5,582.5 666.5,582.5 676.5,580.5 686.5,579.5 694.5,579.5 703.5,573.5 713.5,572.5 722.5,574.5 730.5,574.5 739.5,576.5 746.5,582.5 754.5,585.5 761.5,583.5 770.5,578.5 778.5,579.5 785.5,580.5 790.5,585.5 796.5,594.5 802.5,606.5 808.5,614.5 813.5,608.5 816.5,595.5 822.5,582.5 828.5,567.5 833.5,568.5 838.5,571.5 848.5,574.5 853.5,573.5 860.5,578.5 868.5,578.5 873.5,580.5 881.5,578.5 884.5,579.5" fill="none" stroke="#f06010" stroke-width="1" shape-rendering="crispEdges"/>
<polyline points="10.5,582.5 15.5,579.5 20.5,572.5 24.5,577.5 29.5,572.5 33.5,575.5 36.5,584.5 41.5,583.5 44.5,584.5 49.5,589.5 53.5,584.5 57.5,569.5 60.5,568.5 64.5,561.5 69.5,566.5 73.5,569.5 78.5,568.5 81.5,574.5 85.5,582.5 88.5,580.5 92.5,584.5 96.5,593.5 104.5,594.5 109.5,599.5 113.5,593.5 118.5,590.5 125.5,580.5 130.5,568.5 135.5,568.5 140.5,572.5 144.5,564.5 147.5,570.5 152.5,584.5 156.5,585.5 160.5,586.5 165.5,594.5 169.5,584.5 173.5,576.5 177.5,570.5 181.5,564.5 186.5,565.5 189.5,574.5 193.5,576.5 196.5,574.5 201.5,586.5 205.5,580.5 209.5,576.5 214.5,579.5 220.5,582.5 225.5,591.5 230.5,589.5 236.5,590.5 241.5,580.5 244.5,575.5 249.5,582.5 255.5,581.5 260.5,589.5 265.5,592.5 268.5,585.5 272.5,578.5 276.5,584.5 281.5,575.5 286.5,574.5 292.5,574.5 296.5,567.5 301.5,575.5 308.5,575.5 314.5,578.5 321.5,564.5 328.5,568.5 336.5,570.5 341.5,580.5 344.5,577.5 348.5,582.5 353.5,580.5 358.5,584.5 362.5,580.5 365.5,585.5 370.5,577.5 376.5,570.5 382.5,575.5 390.5,582.5 397.5,584.5 404.5,575.5 412.5,584.5 419.5,581.5 425.5,583.5 430.5,579.5 436.5,584.5 444.5,586.5 450.5,578.5 456.5,563.5 465.5,559.5 472.5,576.5 481.5,577.5 485.5,579.5 492.5,570.5 498.5,570.5 504.5,572.5 509.5,578.5 516.5,583.5 523.5,577.5 532.5,578.5 539.5,573.5 548.5,578.5 556.5,575.5 565.5,578.5 573.5,581.5 578.5,577.5 586.5,579.5 592.5,577.5 600.5,582.5 605.5,576.5 612.5,573.5 620.5,572.5 627.5,575.5 633.5,579.5 642.5,578.5 652.5,583.5 659.5,581.5 666.5,577.5 673.5,577.5 680.5,583.5 686.5,578.5 691.5,578.5 697.5,569.5 702.5,570.5 704.5,574.5 715.5,574.5 722.5,574.5 728.5,573.5 732.5,575.5 737.5,582.5 744.5,588.5 752.5,584.5 756.5,577.5 760.5,582.5 764.5,576.5 768.5,574.5 772.5,582.5 777.5,584.5 780.5,577.5 785.5,583.5 789.5,589.5 792.5,602.5 796.5,629.5 800.5,617.5 805.5,616.5 809.5,604.5 813.5,578.5 816.5,552.5 821.5,569.5 824.5,562.5 828.5,570.5 833.5,583.5 836.5,571.5 840.5,570.5 845.5,573.5 848.5,571.5 852.5,573.5 857.5,582.5 860.5,583.5 864.5,578.5 870.5,579.5 873.5,580.5 877.5,578.5 881.5,578.5 884.5,582.5" fill="none" stroke="#109a3c" stroke-width="1" shape-rendering="crispEdges"/>
<text x="11.5" y="543" font-size="13.6" fill="#000" text-anchor="start" font-weight="normal" font-family='"Liberation Sans", "IPAGothic", sans-serif' textLength="62.3" lengthAdjust="spacingAndGlyphs" >Momentum</text>
<text x="76.3" y="543" font-size="13.6" fill="#000" text-anchor="start" font-weight="normal" font-family='"Liberation Sans", "IPAGothic", sans-serif' textLength="27" lengthAdjust="spacingAndGlyphs" >(5,5)</text>
<text x="107" y="543" font-size="13.6" fill="#000" text-anchor="start" font-weight="normal" font-family='"Liberation Sans", "IPAGothic", sans-serif' textLength="69.4" lengthAdjust="spacingAndGlyphs" >2011/04/15</text>
<text x="180.6" y="543" font-size="13.6" fill="#109a3c" text-anchor="start" font-weight="normal" font-family='"Liberation Sans", "IPAGothic", sans-serif' textLength="30.6" lengthAdjust="spacingAndGlyphs" >98.19</text>
<text x="215.6" y="543" font-size="13.6" fill="#f06010" text-anchor="start" font-weight="normal" font-family='"Liberation Sans", "IPAGothic", sans-serif' textLength="31.2" lengthAdjust="spacingAndGlyphs" >99.76</text>
<rect x="11" y="682" width="873" height="1" fill="#1060e0" />
<rect x="11" y="724" width="873" height="1" fill="#f06010" />
<polyline points="11.5,725.5 16.5,722.5 20.5,723.5 24.5,735.5 28.5,722.5 32.5,715.5 36.5,722.5 41.5,720.5 44.5,719.5 49.5,711.5 53.5,703.5 57.5,690.5 62.5,690.5 65.5,692.5 69.5,695.5 72.5,696.5 76.5,688.5 81.5,690.5 85.5,703.5 88.5,702.5 93.5,696.5 98.5,698.5 101.5,699.5 106.5,709.5 112.5,724.5 116.5,723.5 119.5,728.5 124.5,728.5 128.5,717.5 133.5,724.5 138.5,720.5 144.5,708.5 147.5,706.5 152.5,711.5 157.5,711.5 163.5,704.5 168.5,696.5 173.5,696.5 177.5,696.5 181.5,688.5 188.5,703.5 193.5,701.5 196.5,699.5 200.5,712.5 205.5,702.5 211.5,694.5 217.5,694.5 224.5,709.5 232.5,714.5 237.5,726.5 244.5,711.5 249.5,717.5 252.5,723.5 256.5,722.5 260.5,735.5 266.5,729.5 272.5,718.5 277.5,718.5 282.5,711.5 288.5,706.5 293.5,700.5 297.5,703.5 301.5,712.5 306.5,703.5 312.5,693.5 320.5,687.5 325.5,688.5 328.5,688.5 332.5,674.5 336.5,678.5 340.5,687.5 344.5,686.5 349.5,695.5 354.5,689.5 359.5,690.5 365.5,696.5 369.5,695.5 373.5,688.5 376.5,695.5 381.5,700.5 385.5,713.5 389.5,711.5 392.5,703.5 397.5,703.5 401.5,707.5 404.5,702.5 408.5,710.5 413.5,702.5 420.5,703.5 429.5,720.5 436.5,723.5 441.5,718.5 449.5,717.5 452.5,697.5 456.5,693.5 460.5,696.5 464.5,681.5 468.5,681.5 473.5,690.5 478.5,686.5 485.5,686.5 491.5,673.5 497.5,666.5 501.5,671.5 504.5,674.5 509.5,683.5 512.5,683.5 517.5,692.5 520.5,695.5 524.5,690.5 528.5,682.5 533.5,687.5 536.5,686.5 541.5,683.5 545.5,688.5 549.5,693.5 552.5,694.5 556.5,687.5 560.5,690.5 565.5,687.5 568.5,690.5 573.5,682.5 576.5,679.5 579.5,685.5 584.5,695.5 588.5,690.5 593.5,693.5 597.5,695.5 600.5,706.5 604.5,692.5 608.5,697.5 612.5,692.5 616.5,691.5 621.5,693.5 625.5,692.5 628.5,683.5 632.5,696.5 637.5,695.5 641.5,688.5 646.5,692.5 649.5,696.5 652.5,706.5 656.5,696.5 662.5,700.5 669.5,707.5 676.5,716.5 681.5,714.5 685.5,708.5 689.5,706.5 694.5,701.5 700.5,700.5 704.5,696.5 709.5,686.5 713.5,686.5 717.5,688.5 720.5,683.5 724.5,683.5 729.5,672.5 732.5,660.5 736.5,678.5 740.5,694.5 744.5,700.5 748.5,704.5 753.5,700.5 756.5,697.5 760.5,708.5 765.5,704.5 768.5,704.5 772.5,711.5 777.5,713.5 780.5,712.5 785.5,716.5 790.5,721.5 793.5,729.5 796.5,736.5 800.5,723.5 804.5,726.5 811.5,719.5 815.5,717.5 821.5,719.5 824.5,719.5 828.5,717.5 832.5,718.5 838.5,712.5 844.5,711.5 848.5,702.5 852.5,678.5 857.5,687.5 861.5,681.5 865.5,683.5 868.5,697.5 872.5,698.5 877.5,693.5 881.5,697.5 884.5,697.5" fill="none" stroke="#109a3c" stroke-width="1" shape-rendering="crispEdges"/>
<text x="11.5" y="650" font-size="13.6" fill="#000" text-anchor="start" font-weight="normal" font-family='"Liberation Sans", "IPAGothic", sans-serif' textLength="17" lengthAdjust="spacingAndGlyphs" >RSI</text>
<text x="30.9" y="650" font-size="13.6" fill="#000" text-anchor="start" font-weight="normal" font-family='"Liberation Sans", "IPAGothic", sans-serif' textLength="25.7" lengthAdjust="spacingAndGlyphs" >(14)</text>
<text x="60.3" y="650" font-size="13.6" fill="#000" text-anchor="start" font-weight="normal" font-family='"Liberation Sans", "IPAGothic", sans-serif' textLength="69.9" lengthAdjust="spacingAndGlyphs" >2011/04/15</text>
<text x="134.7" y="650" font-size="13.6" fill="#109a3c" text-anchor="start" font-weight="normal" font-family='"Liberation Sans", "IPAGothic", sans-serif' textLength="28.7" lengthAdjust="spacingAndGlyphs" >55.31</text>
<text x="169.5" y="650" font-size="13.6" fill="#f06010" text-anchor="start" font-weight="normal" font-family='"Liberation Sans", "IPAGothic", sans-serif' textLength="31.5" lengthAdjust="spacingAndGlyphs" >30.00</text>
<text x="205" y="650" font-size="13.6" fill="#1060e0" text-anchor="start" font-weight="normal" font-family='"Liberation Sans", "IPAGothic", sans-serif' textLength="30.8" lengthAdjust="spacingAndGlyphs" >70.00</text>
<rect x="11" y="783" width="873" height="1" fill="#f06010" />
<polyline points="10.5,801.5 15.5,798.5 24.5,798.5 28.5,787.5 33.5,787.5 36.5,797.5 41.5,795.5 44.5,797.5 50.5,788.5 55.5,779.5 60.5,777.5 64.5,772.5 71.5,775.5 76.5,767.5 80.5,772.5 85.5,780.5 89.5,780.5 93.5,786.5 98.5,788.5 103.5,796.5 108.5,802.5 113.5,800.5 120.5,796.5 124.5,797.5 130.5,787.5 135.5,786.5 140.5,787.5 145.5,778.5 149.5,781.5 152.5,789.5 157.5,792.5 163.5,792.5 171.5,781.5 176.5,780.5 181.5,772.5 186.5,775.5 189.5,780.5 193.5,780.5 196.5,776.5 201.5,784.5 205.5,780.5 210.5,780.5 215.5,783.5 221.5,792.5 226.5,793.5 230.5,791.5 236.5,793.5 243.5,787.5 249.5,793.5 254.5,794.5 260.5,801.5 268.5,794.5 272.5,788.5 276.5,798.5 283.5,789.5 289.5,784.5 293.5,777.5 297.5,780.5 301.5,786.5 305.5,783.5 310.5,776.5 316.5,775.5 321.5,768.5 325.5,768.5 330.5,767.5 336.5,769.5 341.5,774.5 344.5,772.5 348.5,776.5 352.5,775.5 357.5,783.5 363.5,783.5 368.5,778.5 373.5,773.5 378.5,776.5 384.5,786.5 389.5,786.5 392.5,780.5 397.5,784.5 401.5,784.5 404.5,782.5 409.5,788.5 413.5,788.5 418.5,785.5 424.5,786.5 433.5,786.5 438.5,793.5 441.5,794.5 445.5,792.5 449.5,783.5 454.5,774.5 460.5,772.5 465.5,769.5 469.5,770.5 473.5,774.5 477.5,772.5 481.5,773.5 484.5,773.5 489.5,767.5 492.5,768.5 497.5,767.5 501.5,770.5 503.5,769.5 508.5,772.5 512.5,770.5 516.5,778.5 520.5,778.5 525.5,773.5 530.5,775.5 536.5,777.5 544.5,774.5 548.5,777.5 552.5,775.5 558.5,777.5 566.5,777.5 573.5,781.5 577.5,777.5 581.5,778.5 585.5,781.5 588.5,780.5 593.5,781.5 597.5,780.5 600.5,784.5 604.5,780.5 608.5,780.5 612.5,776.5 619.5,776.5 624.5,778.5 628.5,776.5 633.5,780.5 643.5,778.5 648.5,782.5 652.5,788.5 657.5,785.5 661.5,782.5 664.5,784.5 668.5,782.5 673.5,786.5 678.5,789.5 682.5,788.5 686.5,783.5 690.5,782.5 696.5,778.5 701.5,777.5 708.5,778.5 714.5,774.5 719.5,773.5 724.5,772.5 728.5,773.5 732.5,773.5 736.5,780.5 740.5,783.5 744.5,787.5 749.5,785.5 753.5,781.5 756.5,779.5 760.5,787.5 765.5,785.5 768.5,783.5 773.5,788.5 780.5,785.5 785.5,790.5 789.5,796.5 792.5,812.5 796.5,843.5 800.5,825.5 804.5,826.5 808.5,818.5 812.5,801.5 816.5,804.5 821.5,801.5 825.5,798.5 829.5,798.5 832.5,797.5 837.5,785.5 841.5,784.5 845.5,784.5 848.5,782.5 853.5,784.5 857.5,783.5 860.5,781.5 864.5,774.5 869.5,774.5 873.5,780.5 876.5,779.5 880.5,779.5 884.5,783.5" fill="none" stroke="#109a3c" stroke-width="1" shape-rendering="crispEdges"/>
<svg x="11" y="744" width="200" height="20" overflow="hidden">
<text x="-2" y="13.5" font-size="13.5" fill="#000" text-anchor="start" font-weight="normal" font-family='"Liberation Sans", "IPAGothic", "Noto Sans CJK JP", sans-serif' textLength="43" lengthAdjust="spacingAndGlyphs" >乖離度</text>
</svg>
<text x="56.6" y="757" font-size="13.6" fill="#000" text-anchor="start" font-weight="normal" font-family='"Liberation Sans", "IPAGothic", sans-serif' textLength="23.4" lengthAdjust="spacingAndGlyphs" >(20)</text>
<text x="82.4" y="757" font-size="13.6" fill="#000" text-anchor="start" font-weight="normal" font-family='"Liberation Sans", "IPAGothic", sans-serif' textLength="69.4" lengthAdjust="spacingAndGlyphs" >2011/04/15</text>
<text x="156.7" y="757" font-size="13.6" fill="#109a3c" text-anchor="start" font-weight="normal" font-family='"Liberation Sans", "IPAGothic", sans-serif' textLength="37.3" lengthAdjust="spacingAndGlyphs" >100.02</text>
<text x="198.5" y="757" font-size="13.6" fill="#f06010" text-anchor="start" font-weight="normal" font-family='"Liberation Sans", "IPAGothic", sans-serif' textLength="38.5" lengthAdjust="spacingAndGlyphs" >100.00</text>
<rect x="11" y="952" width="884" height="2" fill="#000" />
<rect x="11" y="931" width="3" height="27" fill="#00963c" />
<rect x="15" y="940" width="3" height="18" fill="#00963c" />
<rect x="19" y="942" width="3" height="16" fill="#00963c" />
<rect x="23" y="932" width="3" height="26" fill="#00963c" />
<rect x="27" y="937" width="3" height="21" fill="#00963c" />
<rect x="31" y="940" width="3" height="18" fill="#00963c" />
<rect x="35" y="936" width="3" height="22" fill="#00963c" />
<rect x="39" y="939" width="3" height="19" fill="#00963c" />
<rect x="43" y="935" width="3" height="23" fill="#00963c" />
<rect x="47" y="941" width="3" height="17" fill="#00963c" />
<rect x="51" y="922" width="3" height="36" fill="#00963c" />
<rect x="55" y="945" width="3" height="13" fill="#00963c" />
<rect x="59" y="944" width="3" height="14" fill="#00963c" />
<rect x="63" y="941" width="3" height="17" fill="#00963c" />
<rect x="67" y="944" width="3" height="14" fill="#00963c" />
<rect x="71" y="944" width="3" height="14" fill="#00963c" />
<rect x="75" y="940" width="3" height="18" fill="#00963c" />
<rect x="79" y="941" width="3" height="17" fill="#00963c" />
<rect x="83" y="943" width="3" height="15" fill="#00963c" />
<rect x="87" y="944" width="3" height="14" fill="#00963c" />
<rect x="91" y="938" width="3" height="20" fill="#00963c" />
<rect x="95" y="946" width="3" height="12" fill="#00963c" />
<rect x="99" y="943" width="3" height="15" fill="#00963c" />
<rect x="103" y="938" width="3" height="20" fill="#00963c" />
<rect x="107" y="940" width="3" height="18" fill="#00963c" />
<rect x="111" y="943" width="3" height="15" fill="#00963c" />
<rect x="115" y="946" width="3" height="12" fill="#00963c" />
<rect x="119" y="938" width="3" height="20" fill="#00963c" />
<rect x="123" y="942" width="3" height="16" fill="#00963c" />
<rect x="127" y="942" width="3" height="16" fill="#00963c" />
<rect x="131" y="942" width="3" height="16" fill="#00963c" />
<rect x="135" y="943" width="3" height="15" fill="#00963c" />
<rect x="139" y="938" width="3" height="20" fill="#00963c" />
<rect x="143" y="931" width="3" height="27" fill="#00963c" />
<rect x="147" y="944" width="3" height="14" fill="#00963c" />
<rect x="151" y="941" width="3" height="17" fill="#00963c" />
<rect x="155" y="940" width="3" height="18" fill="#00963c" />
<rect x="159" y="936" width="3" height="22" fill="#00963c" />
<rect x="163" y="925" width="3" height="33" fill="#00963c" />
<rect x="167" y="937" width="3" height="21" fill="#00963c" />
<rect x="171" y="948" width="3" height="10" fill="#00963c" />
<rect x="175" y="940" width="3" height="18" fill="#00963c" />
<rect x="179" y="937" width="3" height="21" fill="#00963c" />
<rect x="183" y="938" width="3" height="20" fill="#00963c" />
<rect x="187" y="934" width="3" height="24" fill="#00963c" />
<rect x="191" y="940" width="3" height="18" fill="#00963c" />
<rect x="195" y="940" width="3" height="18" fill="#00963c" />
<rect x="199" y="943" width="3" height="15" fill="#00963c" />
<rect x="203" y="941" width="3" height="17" fill="#00963c" />
<rect x="207" y="943" width="3" height="15" fill="#00963c" />
<rect x="211" y="949" width="3" height="9" fill="#00963c" />
<rect x="215" y="945" width="3" height="13" fill="#00963c" />
<rect x="219" y="943" width="3" height="15" fill="#00963c" />
<rect x="223" y="938" width="3" height="20" fill="#00963c" />
<rect x="227" y="943" width="3" height="15" fill="#00963c" />
<rect x="231" y="947" width="3" height="11" fill="#00963c" />
<rect x="235" y="948" width="3" height="10" fill="#00963c" />
<rect x="239" y="943" width="3" height="15" fill="#00963c" />
<rect x="243" y="942" width="3" height="16" fill="#00963c" />
<rect x="247" y="944" width="3" height="14" fill="#00963c" />
<rect x="251" y="948" width="3" height="10" fill="#00963c" />
<rect x="255" y="944" width="3" height="14" fill="#00963c" />
<rect x="259" y="940" width="3" height="18" fill="#00963c" />
<rect x="263" y="946" width="3" height="12" fill="#00963c" />
<rect x="267" y="941" width="3" height="17" fill="#00963c" />
<rect x="271" y="944" width="3" height="14" fill="#00963c" />
<rect x="275" y="943" width="3" height="15" fill="#00963c" />
<rect x="279" y="942" width="3" height="16" fill="#00963c" />
<rect x="283" y="943" width="3" height="15" fill="#00963c" />
<rect x="287" y="946" width="3" height="12" fill="#00963c" />
<rect x="291" y="945" width="3" height="13" fill="#00963c" />
<rect x="295" y="943" width="3" height="15" fill="#00963c" />
<rect x="299" y="945" width="3" height="13" fill="#00963c" />
<rect x="303" y="948" width="3" height="10" fill="#00963c" />
<rect x="307" y="933" width="3" height="25" fill="#00963c" />
<rect x="311" y="945" width="3" height="13" fill="#00963c" />
<rect x="315" y="944" width="3" height="14" fill="#00963c" />
<rect x="319" y="930" width="3" height="28" fill="#00963c" />
<rect x="323" y="939" width="3" height="19" fill="#00963c" />
<rect x="327" y="942" width="3" height="16" fill="#00963c" />
<rect x="331" y="944" width="3" height="14" fill="#00963c" />
<rect x="335" y="945" width="3" height="13" fill="#00963c" />
<rect x="339" y="938" width="3" height="20" fill="#00963c" />
<rect x="343" y="942" width="3" height="16" fill="#00963c" />
<rect x="347" y="947" width="3" height="11" fill="#00963c" />
<rect x="351" y="940" width="3" height="18" fill="#00963c" />
<rect x="355" y="935" width="3" height="23" fill="#00963c" />
<rect x="359" y="935" width="3" height="23" fill="#00963c" />
<rect x="363" y="936" width="3" height="22" fill="#00963c" />
<rect x="367" y="928" width="3" height="30" fill="#00963c" />
<rect x="371" y="921" width="3" height="37" fill="#00963c" />
<rect x="375" y="933" width="3" height="25" fill="#00963c" />
<rect x="379" y="937" width="3" height="21" fill="#00963c" />
<rect x="383" y="938" width="3" height="20" fill="#00963c" />
<rect x="387" y="938" width="3" height="20" fill="#00963c" />
<rect x="391" y="933" width="3" height="25" fill="#00963c" />
<rect x="395" y="938" width="3" height="20" fill="#00963c" />
<rect x="399" y="945" width="3" height="13" fill="#00963c" />
<rect x="403" y="942" width="3" height="16" fill="#00963c" />
<rect x="407" y="938" width="3" height="20" fill="#00963c" />
<rect x="411" y="940" width="3" height="18" fill="#00963c" />
<rect x="415" y="945" width="3" height="13" fill="#00963c" />
<rect x="419" y="946" width="3" height="12" fill="#00963c" />
<rect x="423" y="944" width="3" height="14" fill="#00963c" />
<rect x="427" y="941" width="3" height="17" fill="#00963c" />
<rect x="431" y="935" width="3" height="23" fill="#00963c" />
<rect x="435" y="934" width="3" height="24" fill="#00963c" />
<rect x="439" y="941" width="3" height="17" fill="#00963c" />
<rect x="443" y="944" width="3" height="14" fill="#00963c" />
<rect x="447" y="940" width="3" height="18" fill="#00963c" />
<rect x="451" y="934" width="3" height="24" fill="#00963c" />
<rect x="455" y="942" width="3" height="16" fill="#00963c" />
<rect x="459" y="940" width="3" height="18" fill="#00963c" />
<rect x="463" y="932" width="3" height="26" fill="#00963c" />
<rect x="467" y="937" width="3" height="21" fill="#00963c" />
<rect x="471" y="939" width="3" height="19" fill="#00963c" />
<rect x="475" y="941" width="3" height="17" fill="#00963c" />
<rect x="479" y="939" width="3" height="19" fill="#00963c" />
<rect x="483" y="944" width="3" height="14" fill="#00963c" />
<rect x="487" y="929" width="3" height="29" fill="#00963c" />
<rect x="491" y="934" width="3" height="24" fill="#00963c" />
<rect x="495" y="940" width="3" height="18" fill="#00963c" />
<rect x="499" y="934" width="3" height="24" fill="#00963c" />
<rect x="503" y="937" width="3" height="21" fill="#00963c" />
<rect x="507" y="942" width="3" height="16" fill="#00963c" />
<rect x="511" y="941" width="3" height="17" fill="#00963c" />
<rect x="515" y="933" width="3" height="25" fill="#00963c" />
<rect x="519" y="941" width="3" height="17" fill="#00963c" />
<rect x="523" y="938" width="3" height="20" fill="#00963c" />
<rect x="527" y="943" width="3" height="15" fill="#00963c" />
<rect x="531" y="945" width="3" height="13" fill="#00963c" />
<rect x="535" y="941" width="3" height="17" fill="#00963c" />
<rect x="539" y="937" width="3" height="21" fill="#00963c" />
<rect x="543" y="934" width="3" height="24" fill="#00963c" />
<rect x="547" y="917" width="3" height="41" fill="#00963c" />
<rect x="551" y="935" width="3" height="23" fill="#00963c" />
<rect x="555" y="930" width="3" height="28" fill="#00963c" />
<rect x="559" y="935" width="3" height="23" fill="#00963c" />
<rect x="563" y="936" width="3" height="22" fill="#00963c" />
<rect x="567" y="935" width="3" height="23" fill="#00963c" />
<rect x="571" y="941" width="3" height="17" fill="#00963c" />
<rect x="575" y="943" width="3" height="15" fill="#00963c" />
<rect x="579" y="937" width="3" height="21" fill="#00963c" />
<rect x="583" y="948" width="3" height="10" fill="#00963c" />
<rect x="587" y="949" width="3" height="9" fill="#00963c" />
<rect x="591" y="952" width="3" height="6" fill="#00963c" />
<rect x="595" y="948" width="3" height="10" fill="#00963c" />
<rect x="599" y="945" width="3" height="13" fill="#00963c" />
<rect x="603" y="942" width="3" height="16" fill="#00963c" />
<rect x="607" y="941" width="3" height="17" fill="#00963c" />
<rect x="611" y="929" width="3" height="29" fill="#00963c" />
<rect x="615" y="931" width="3" height="27" fill="#00963c" />
<rect x="619" y="934" width="3" height="24" fill="#00963c" />
<rect x="623" y="927" width="3" height="31" fill="#00963c" />
<rect x="627" y="932" width="3" height="26" fill="#00963c" />
<rect x="631" y="928" width="3" height="30" fill="#00963c" />
<rect x="635" y="938" width="3" height="20" fill="#00963c" />
<rect x="639" y="937" width="3" height="21" fill="#00963c" />
<rect x="643" y="932" width="3" height="26" fill="#00963c" />
<rect x="647" y="935" width="3" height="23" fill="#00963c" />
<rect x="651" y="925" width="3" height="33" fill="#00963c" />
<rect x="655" y="938" width="3" height="20" fill="#00963c" />
<rect x="659" y="937" width="3" height="21" fill="#00963c" />
<rect x="663" y="942" width="3" height="16" fill="#00963c" />
<rect x="667" y="936" width="3" height="22" fill="#00963c" />
<rect x="671" y="934" width="3" height="24" fill="#00963c" />
<rect x="675" y="937" width="3" height="21" fill="#00963c" />
<rect x="679" y="936" width="3" height="22" fill="#00963c" />
<rect x="683" y="929" width="3" height="29" fill="#00963c" />
<rect x="687" y="936" width="3" height="22" fill="#00963c" />
<rect x="691" y="927" width="3" height="31" fill="#00963c" />
<rect x="695" y="933" width="3" height="25" fill="#00963c" />
<rect x="699" y="934" width="3" height="24" fill="#00963c" />
<rect x="703" y="931" width="3" height="27" fill="#00963c" />
<rect x="707" y="935" width="3" height="23" fill="#00963c" />
<rect x="711" y="935" width="3" height="23" fill="#00963c" />
<rect x="715" y="936" width="3" height="22" fill="#00963c" />
<rect x="719" y="926" width="3" height="32" fill="#00963c" />
<rect x="723" y="929" width="3" height="29" fill="#00963c" />
<rect x="727" y="933" width="3" height="25" fill="#00963c" />
<rect x="731" y="935" width="3" height="23" fill="#00963c" />
<rect x="735" y="927" width="3" height="31" fill="#00963c" />
<rect x="739" y="927" width="3" height="31" fill="#00963c" />
<rect x="743" y="926" width="3" height="32" fill="#00963c" />
<rect x="747" y="934" width="3" height="24" fill="#00963c" />
<rect x="751" y="928" width="3" height="30" fill="#00963c" />
<rect x="755" y="932" width="3" height="26" fill="#00963c" />
<rect x="759" y="933" width="3" height="25" fill="#00963c" />
<rect x="763" y="938" width="3" height="20" fill="#00963c" />
<rect x="767" y="931" width="3" height="27" fill="#00963c" />
<rect x="771" y="933" width="3" height="25" fill="#00963c" />
<rect x="775" y="933" width="3" height="25" fill="#00963c" />
<rect x="779" y="938" width="3" height="20" fill="#00963c" />
<rect x="783" y="937" width="3" height="21" fill="#00963c" />
<rect x="787" y="917" width="3" height="41" fill="#00963c" />
<rect x="791" y="888" width="3" height="70" fill="#00963c" />
<rect x="795" y="873" width="3" height="85" fill="#00963c" />
<rect x="799" y="887" width="3" height="71" fill="#00963c" />
<rect x="803" y="901" width="3" height="57" fill="#00963c" />
<rect x="807" y="914" width="3" height="44" fill="#00963c" />
<rect x="811" y="908" width="3" height="50" fill="#00963c" />
<rect x="815" y="903" width="3" height="55" fill="#00963c" />
<rect x="819" y="914" width="3" height="44" fill="#00963c" />
<rect x="823" y="917" width="3" height="41" fill="#00963c" />
<rect x="827" y="921" width="3" height="37" fill="#00963c" />
<rect x="831" y="921" width="3" height="37" fill="#00963c" />
<rect x="835" y="917" width="3" height="41" fill="#00963c" />
<rect x="839" y="925" width="3" height="33" fill="#00963c" />
<rect x="843" y="925" width="3" height="33" fill="#00963c" />
<rect x="847" y="927" width="3" height="31" fill="#00963c" />
<rect x="851" y="926" width="3" height="32" fill="#00963c" />
<rect x="855" y="924" width="3" height="34" fill="#00963c" />
<rect x="859" y="932" width="3" height="26" fill="#00963c" />
<rect x="863" y="923" width="3" height="35" fill="#00963c" />
<rect x="867" y="936" width="3" height="22" fill="#00963c" />
<rect x="871" y="932" width="3" height="26" fill="#00963c" />
<rect x="875" y="934" width="3" height="24" fill="#00963c" />
<rect x="879" y="932" width="3" height="26" fill="#00963c" />
<rect x="883" y="934" width="3" height="24" fill="#00963c" />
<text x="11.5" y="864" font-size="13" fill="#000" text-anchor="start" font-weight="normal" font-family='"Liberation Sans", "IPAGothic", "Noto Sans CJK JP", sans-serif' textLength="40" lengthAdjust="spacingAndGlyphs" >出来高</text>
<text x="55" y="864" font-size="13.6" fill="#000" text-anchor="start" font-weight="normal" font-family='"Liberation Sans", "IPAGothic", sans-serif' textLength="72.5" lengthAdjust="spacingAndGlyphs" >2011/04/15</text>
<text x="131" y="864" font-size="13.6" fill="#109a3c" text-anchor="start" font-weight="normal" font-family='"Liberation Sans", "IPAGothic", sans-serif' textLength="71.5" lengthAdjust="spacingAndGlyphs" >2,093,650.00</text>
<rect x="11" y="314" width="882" height="2" fill="#000" />
<rect x="11" y="421" width="882" height="2" fill="#000" />
<rect x="11" y="528" width="882" height="2" fill="#000" />
<rect x="11" y="635" width="882" height="2" fill="#000" />
<rect x="11" y="742" width="882" height="2" fill="#000" />
<rect x="11" y="849" width="882" height="2" fill="#000" />
<rect x="870.5" y="317.5" width="8" height="7" fill="#fff" stroke="#808080"/>
<rect x="872" y="321" width="5" height="1" fill="#000" />
<rect x="880.5" y="317.5" width="8" height="7" fill="#fff" stroke="#808080"/>
<path d="M882.5,319.0 L886.5,323.0 M886.5,319.0 L882.5,323.0" stroke="#000" stroke-width="1" shape-rendering="auto"/>
<rect x="870.5" y="424.5" width="8" height="7" fill="#fff" stroke="#808080"/>
<rect x="872" y="428" width="5" height="1" fill="#000" />
<rect x="880.5" y="424.5" width="8" height="7" fill="#fff" stroke="#808080"/>
<path d="M882.5,426.0 L886.5,430.0 M886.5,426.0 L882.5,430.0" stroke="#000" stroke-width="1" shape-rendering="auto"/>
<rect x="870.5" y="531.5" width="8" height="7" fill="#fff" stroke="#808080"/>
<rect x="872" y="535" width="5" height="1" fill="#000" />
<rect x="880.5" y="531.5" width="8" height="7" fill="#fff" stroke="#808080"/>
<path d="M882.5,533.0 L886.5,537.0 M886.5,533.0 L882.5,537.0" stroke="#000" stroke-width="1" shape-rendering="auto"/>
<rect x="870.5" y="638.5" width="8" height="7" fill="#fff" stroke="#808080"/>
<rect x="872" y="642" width="5" height="1" fill="#000" />
<rect x="880.5" y="638.5" width="8" height="7" fill="#fff" stroke="#808080"/>
<path d="M882.5,640.0 L886.5,644.0 M886.5,640.0 L882.5,644.0" stroke="#000" stroke-width="1" shape-rendering="auto"/>
<rect x="870.5" y="745.5" width="8" height="7" fill="#fff" stroke="#808080"/>
<rect x="872" y="749" width="5" height="1" fill="#000" />
<rect x="880.5" y="745.5" width="8" height="7" fill="#fff" stroke="#808080"/>
<path d="M882.5,747.0 L886.5,751.0 M886.5,747.0 L882.5,751.0" stroke="#000" stroke-width="1" shape-rendering="auto"/>
<rect x="870.5" y="852.5" width="8" height="7" fill="#fff" stroke="#808080"/>
<rect x="872" y="856" width="5" height="1" fill="#000" />
<rect x="880.5" y="852.5" width="8" height="7" fill="#fff" stroke="#808080"/>
<path d="M882.5,854.0 L886.5,858.0 M886.5,854.0 L882.5,858.0" stroke="#000" stroke-width="1" shape-rendering="auto"/>
<rect x="893" y="102" width="2" height="856" fill="#000" />
<rect x="895" y="118" width="5" height="1" fill="#000" />
<text x="902.5" y="123" font-size="13.6" fill="#000" text-anchor="start" font-weight="normal" font-family='"Liberation Sans", "IPAGothic", sans-serif' textLength="52" lengthAdjust="spacingAndGlyphs" >12000.00</text>
<rect x="895" y="166" width="3" height="1" fill="#000" />
<rect x="895" y="213" width="5" height="1" fill="#000" />
<rect x="895" y="261" width="3" height="1" fill="#000" />
<rect x="895" y="308" width="5" height="1" fill="#000" />
<text x="902.5" y="218" font-size="13.6" fill="#000" text-anchor="start" font-weight="normal" font-family='"Liberation Sans", "IPAGothic", sans-serif' textLength="52" lengthAdjust="spacingAndGlyphs" >10000.00</text>
<rect x="903" y="213" width="45" height="14" fill="#0c0ca0" />
<text x="903" y="225.5" font-size="13.6" fill="#ffffff" text-anchor="start" font-weight="normal" font-family='"Liberation Sans", "IPAGothic", sans-serif' textLength="44" lengthAdjust="spacingAndGlyphs" >9591.52</text>
<path d="M903,231 L912,231 L907.5,236 Z" fill="#1010a0"/>
<text x="917" y="240" font-size="13.6" fill="#1010a0" text-anchor="start" font-weight="normal" font-family='"Liberation Sans", "IPAGothic", sans-serif' textLength="31" lengthAdjust="spacingAndGlyphs" >62.40</text>
<text x="904.5" y="254" font-size="13.6" fill="#1010a0" text-anchor="start" font-weight="normal" font-family='"Liberation Sans", "IPAGothic", sans-serif' textLength="31" lengthAdjust="spacingAndGlyphs" >0.65%</text>
<rect x="895" y="330" width="5" height="1" fill="#000" />
<text x="902.5" y="335" font-size="13.6" fill="#000" text-anchor="start" font-weight="normal" font-family='"Liberation Sans", "IPAGothic", sans-serif' textLength="31" lengthAdjust="spacingAndGlyphs" >80.00</text>
<rect x="895" y="345" width="3" height="1" fill="#000" />
<rect x="895" y="361" width="5" height="1" fill="#000" />
<text x="902.5" y="366" font-size="13.6" fill="#000" text-anchor="start" font-weight="normal" font-family='"Liberation Sans", "IPAGothic", sans-serif' textLength="31" lengthAdjust="spacingAndGlyphs" >60.00</text>
<rect x="895" y="376" width="3" height="1" fill="#000" />
<rect x="895" y="391" width="5" height="1" fill="#000" />
<text x="902.5" y="396" font-size="13.6" fill="#000" text-anchor="start" font-weight="normal" font-family='"Liberation Sans", "IPAGothic", sans-serif' textLength="31" lengthAdjust="spacingAndGlyphs" >40.00</text>
<rect x="895" y="407" width="3" height="1" fill="#000" />
<rect x="895" y="426" width="3" height="1" fill="#000" />
<rect x="895" y="440" width="5" height="1" fill="#000" />
<text x="902.5" y="445" font-size="13.6" fill="#000" text-anchor="start" font-weight="normal" font-family='"Liberation Sans", "IPAGothic", sans-serif' textLength="38.5" lengthAdjust="spacingAndGlyphs" >200.00</text>
<rect x="895" y="454" width="3" height="1" fill="#000" />
<rect x="895" y="469" width="5" height="1" fill="#000" />
<text x="902.5" y="474" font-size="13.6" fill="#000" text-anchor="start" font-weight="normal" font-family='"Liberation Sans", "IPAGothic", sans-serif' textLength="24.5" lengthAdjust="spacingAndGlyphs" >0.00</text>
<rect x="895" y="483" width="3" height="1" fill="#000" />
<rect x="895" y="497" width="5" height="1" fill="#000" />
<text x="902.5" y="502" font-size="13.6" fill="#000" text-anchor="start" font-weight="normal" font-family='"Liberation Sans", "IPAGothic", sans-serif' textLength="45.5" lengthAdjust="spacingAndGlyphs" >−200.00</text>
<rect x="895" y="511" width="3" height="1" fill="#000" />
<rect x="895" y="525" width="5" height="1" fill="#000" />
<rect x="895" y="537" width="3" height="1" fill="#000" />
<rect x="895" y="551" width="5" height="1" fill="#000" />
<text x="902.5" y="556" font-size="13.6" fill="#000" text-anchor="start" font-weight="normal" font-family='"Liberation Sans", "IPAGothic", sans-serif' textLength="38.5" lengthAdjust="spacingAndGlyphs" >110.00</text>
<rect x="895" y="565" width="3" height="1" fill="#000" />
<rect x="895" y="578" width="5" height="1" fill="#000" />
<text x="902.5" y="583" font-size="13.6" fill="#000" text-anchor="start" font-weight="normal" font-family='"Liberation Sans", "IPAGothic", sans-serif' textLength="38.5" lengthAdjust="spacingAndGlyphs" >100.00</text>
<rect x="895" y="591" width="3" height="1" fill="#000" />
<rect x="895" y="606" width="5" height="1" fill="#000" />
<text x="902.5" y="611" font-size="13.6" fill="#000" text-anchor="start" font-weight="normal" font-family='"Liberation Sans", "IPAGothic", sans-serif' textLength="32" lengthAdjust="spacingAndGlyphs" >90.00</text>
<rect x="895" y="619" width="3" height="1" fill="#000" />
<rect x="895" y="633" width="5" height="1" fill="#000" />
<rect x="895" y="650" width="5" height="1" fill="#000" />
<text x="902.5" y="655" font-size="13.6" fill="#000" text-anchor="start" font-weight="normal" font-family='"Liberation Sans", "IPAGothic", sans-serif' textLength="38.5" lengthAdjust="spacingAndGlyphs" >100.00</text>
<rect x="895" y="703" width="5" height="1" fill="#000" />
<text x="902.5" y="708" font-size="13.6" fill="#000" text-anchor="start" font-weight="normal" font-family='"Liberation Sans", "IPAGothic", sans-serif' textLength="32" lengthAdjust="spacingAndGlyphs" >50.00</text>
<rect x="895" y="749" width="5" height="1" fill="#000" />
<rect x="895" y="766" width="3" height="1" fill="#000" />
<rect x="895" y="783" width="5" height="1" fill="#000" />
<text x="902.5" y="788" font-size="13.6" fill="#000" text-anchor="start" font-weight="normal" font-family='"Liberation Sans", "IPAGothic", sans-serif' textLength="38.5" lengthAdjust="spacingAndGlyphs" >100.00</text>
<rect x="895" y="800" width="3" height="1" fill="#000" />
<rect x="895" y="816" width="5" height="1" fill="#000" />
<text x="902.5" y="821" font-size="13.6" fill="#000" text-anchor="start" font-weight="normal" font-family='"Liberation Sans", "IPAGothic", sans-serif' textLength="32" lengthAdjust="spacingAndGlyphs" >90.00</text>
<rect x="895" y="833" width="3" height="1" fill="#000" />
<rect x="895" y="852" width="5" height="1" fill="#000" />
<rect x="895" y="869" width="5" height="1" fill="#000" />
<text x="902.5" y="874" font-size="13.6" fill="#000" text-anchor="start" font-weight="normal" font-family='"Liberation Sans", "IPAGothic", sans-serif' textLength="52" lengthAdjust="spacingAndGlyphs" >60000.00</text>
<rect x="895" y="886" width="3" height="1" fill="#000" />
<rect x="895" y="902" width="5" height="1" fill="#000" />
<text x="902.5" y="907" font-size="13.6" fill="#000" text-anchor="start" font-weight="normal" font-family='"Liberation Sans", "IPAGothic", sans-serif' textLength="52" lengthAdjust="spacingAndGlyphs" >40000.00</text>
<rect x="895" y="919" width="3" height="1" fill="#000" />
<rect x="895" y="936" width="5" height="1" fill="#000" />
<text x="902.5" y="941" font-size="13.6" fill="#000" text-anchor="start" font-weight="normal" font-family='"Liberation Sans", "IPAGothic", sans-serif' textLength="52" lengthAdjust="spacingAndGlyphs" >20000.00</text>
<rect x="895" y="952" width="1" height="2" fill="#000" />
<rect x="896.5" y="943.5" width="29" height="14" fill="#fff" stroke="#000"/>
<text x="898" y="955.5" font-size="13.6" fill="#000" text-anchor="start" font-weight="normal" font-family='"Liberation Sans", "IPAGothic", sans-serif' textLength="26" lengthAdjust="spacingAndGlyphs" >x100</text>
<rect x="108" y="958" width="1" height="2" fill="#000" />
<text x="108.5" y="975" font-size="13.6" fill="#000" text-anchor="middle" font-weight="normal" font-family='"Liberation Sans", "IPAGothic", sans-serif' >Jul</text>
<rect x="192" y="958" width="1" height="2" fill="#000" />
<text x="192.5" y="975" font-size="13.6" fill="#000" text-anchor="middle" font-weight="normal" font-family='"Liberation Sans", "IPAGothic", sans-serif' >Aug</text>
<rect x="280" y="958" width="1" height="2" fill="#000" />
<text x="280.5" y="975" font-size="13.6" fill="#000" text-anchor="middle" font-weight="normal" font-family='"Liberation Sans", "IPAGothic", sans-serif' >Sep</text>
<rect x="360" y="958" width="1" height="2" fill="#000" />
<text x="360.5" y="975" font-size="13.6" fill="#000" text-anchor="middle" font-weight="normal" font-family='"Liberation Sans", "IPAGothic", sans-serif' >Oct</text>
<rect x="440" y="958" width="1" height="2" fill="#000" />
<text x="440.5" y="975" font-size="13.6" fill="#000" text-anchor="middle" font-weight="normal" font-family='"Liberation Sans", "IPAGothic", sans-serif' >Nov</text>
<rect x="520" y="958" width="1" height="2" fill="#000" />
<text x="520.5" y="975" font-size="13.6" fill="#000" text-anchor="middle" font-weight="normal" font-family='"Liberation Sans", "IPAGothic", sans-serif' >Dec</text>
<rect x="604" y="958" width="1" height="2" fill="#000" />
<text x="603" y="975" font-size="13.6" fill="#000" text-anchor="middle" font-weight="bold" font-family='"Liberation Sans", "IPAGothic", sans-serif' >11</text>
<rect x="680" y="958" width="1" height="2" fill="#000" />
<text x="680.5" y="975" font-size="13.6" fill="#000" text-anchor="middle" font-weight="normal" font-family='"Liberation Sans", "IPAGothic", sans-serif' >Feb</text>
<rect x="756" y="958" width="1" height="2" fill="#000" />
<text x="756.5" y="975" font-size="13.6" fill="#000" text-anchor="middle" font-weight="normal" font-family='"Liberation Sans", "IPAGothic", sans-serif' >Mar</text>
<rect x="844" y="958" width="1" height="2" fill="#000" />
<text x="844.5" y="975" font-size="13.6" fill="#000" text-anchor="middle" font-weight="normal" font-family='"Liberation Sans", "IPAGothic", sans-serif' >Apr</text>
<rect x="11" y="980" width="959" height="13" fill="url(#chk)" />
<rect x="11" y="980" width="36" height="13" fill="#d4d0c8" />
<rect x="16" y="984" width="25" height="1" fill="#ffffff" />
<rect x="16" y="985" width="25" height="1" fill="#808080" />
<rect x="16" y="987" width="25" height="1" fill="#ffffff" />
<rect x="16" y="988" width="25" height="1" fill="#808080" />
<rect x="47" y="980" width="15" height="13" fill="#404040" />
<rect x="47" y="980" width="14" height="12" fill="#ffffff" />
<rect x="48" y="981" width="13" height="11" fill="#808080" />
<rect x="48" y="981" width="12" height="10" fill="#d4d0c8" />
<path d="M52,986 L55,983 L55,989 Z" fill="#000"/>
<rect x="829" y="980" width="16" height="13" fill="#404040" />
<rect x="829" y="980" width="15" height="12" fill="#ffffff" />
<rect x="830" y="981" width="14" height="11" fill="#808080" />
<rect x="830" y="981" width="13" height="10" fill="#d4d0c8" />
<rect x="845" y="980" width="16" height="13" fill="#404040" />
<rect x="845" y="980" width="15" height="12" fill="#ffffff" />
<rect x="846" y="981" width="14" height="11" fill="#808080" />
<rect x="846" y="981" width="13" height="10" fill="#d4d0c8" />
<path d="M852,983 L855,986 L852,989 Z" fill="#000"/>
<rect x="861" y="980" width="109" height="13" fill="#d4d0c8" />
<path d="M862.5,986.5 L868.5,980.5 L868.5,992.5 Z M870,980.5 L876,986.5 L870,992.5 Z" fill="#000" shape-rendering="auto"/>
<path d="M882,981 L888,986.5 L882,992 Z M894,981 L888,986.5 L894,992 Z" fill="#000"/><rect x="887" y="985" width="2" height="3" fill="#000"/>
<g shape-rendering="auto"><circle cx="906" cy="986.5" r="5" fill="#fff" stroke="#000" stroke-width="1.3"/><path d="M906,983 L906,990 M902.5,986.5 L909.5,986.5" stroke="#000" stroke-width="1.6"/></g>
<g shape-rendering="auto"><circle cx="924" cy="986.5" r="5" fill="none" stroke="#a8a8a8" stroke-width="1.2"/><path d="M920.5,986.5 L927.5,986.5" stroke="#a8a8a8" stroke-width="1.5"/></g>
<g fill="none" stroke="#a0a0a0"><rect x="936.5" y="981.5" width="10" height="10"/><line x1="941.5" y1="981.5" x2="941.5" y2="991.5"/><line x1="936.5" y1="986.5" x2="946.5" y2="986.5"/></g>
<rect x="954.5" y="981.5" width="10" height="10" fill="#fff" stroke="#000"/><path d="M955,982 L964,991 M964,982 L955,991" stroke="#000" shape-rendering="auto"/>
</svg></body></html>
